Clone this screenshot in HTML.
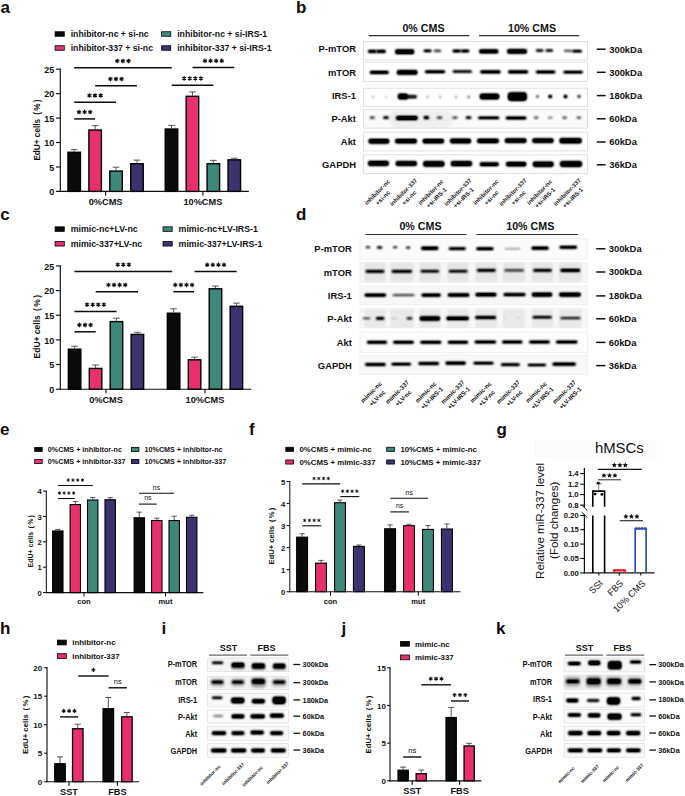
<!DOCTYPE html>
<html><head><meta charset="utf-8"><style>
html,body{margin:0;padding:0;background:#fff;}
svg{display:block;font-family:"Liberation Sans",sans-serif;}
</style></head><body>
<svg width="685" height="796" viewBox="0 0 685 796">
<defs><filter id="bl2" x="-30%" y="-100%" width="160%" height="300%"><feGaussianBlur stdDeviation="0.2"/><feComponentTransfer><feFuncA type="linear" slope="1.5"/></feComponentTransfer></filter><filter id="bl3" x="-30%" y="-100%" width="160%" height="300%"><feGaussianBlur stdDeviation="0.3"/><feComponentTransfer><feFuncA type="linear" slope="1.5"/></feComponentTransfer></filter><filter id="bl4" x="-30%" y="-100%" width="160%" height="300%"><feGaussianBlur stdDeviation="0.4"/><feComponentTransfer><feFuncA type="linear" slope="1.5"/></feComponentTransfer></filter><filter id="bl5" x="-30%" y="-100%" width="160%" height="300%"><feGaussianBlur stdDeviation="0.5"/><feComponentTransfer><feFuncA type="linear" slope="1.5"/></feComponentTransfer></filter><filter id="bl6" x="-30%" y="-100%" width="160%" height="300%"><feGaussianBlur stdDeviation="0.6"/><feComponentTransfer><feFuncA type="linear" slope="1.5"/></feComponentTransfer></filter><filter id="bl7" x="-30%" y="-100%" width="160%" height="300%"><feGaussianBlur stdDeviation="0.7"/><feComponentTransfer><feFuncA type="linear" slope="1.5"/></feComponentTransfer></filter><filter id="bl8" x="-30%" y="-100%" width="160%" height="300%"><feGaussianBlur stdDeviation="0.8"/><feComponentTransfer><feFuncA type="linear" slope="1.5"/></feComponentTransfer></filter><filter id="bl9" x="-30%" y="-100%" width="160%" height="300%"><feGaussianBlur stdDeviation="0.9"/><feComponentTransfer><feFuncA type="linear" slope="1.5"/></feComponentTransfer></filter><filter id="bl10" x="-30%" y="-100%" width="160%" height="300%"><feGaussianBlur stdDeviation="1.0"/><feComponentTransfer><feFuncA type="linear" slope="1.5"/></feComponentTransfer></filter><filter id="bl11" x="-30%" y="-100%" width="160%" height="300%"><feGaussianBlur stdDeviation="1.1"/><feComponentTransfer><feFuncA type="linear" slope="1.5"/></feComponentTransfer></filter><filter id="bl12" x="-30%" y="-100%" width="160%" height="300%"><feGaussianBlur stdDeviation="1.2"/><feComponentTransfer><feFuncA type="linear" slope="1.5"/></feComponentTransfer></filter><filter id="bl13" x="-30%" y="-100%" width="160%" height="300%"><feGaussianBlur stdDeviation="1.3"/><feComponentTransfer><feFuncA type="linear" slope="1.5"/></feComponentTransfer></filter><filter id="bl14" x="-30%" y="-100%" width="160%" height="300%"><feGaussianBlur stdDeviation="1.4"/><feComponentTransfer><feFuncA type="linear" slope="1.5"/></feComponentTransfer></filter><filter id="bl15" x="-30%" y="-100%" width="160%" height="300%"><feGaussianBlur stdDeviation="1.5"/><feComponentTransfer><feFuncA type="linear" slope="1.5"/></feComponentTransfer></filter></defs>
<rect width="685" height="796" fill="#fff"/>
<line x1="60.3" y1="68.62" x2="60.3" y2="191.97" stroke="#111" stroke-width="1.15"/>
<line x1="59.72" y1="191.4" x2="248.8" y2="191.4" stroke="#111" stroke-width="1.15"/>
<line x1="55.9" y1="191.4" x2="60.3" y2="191.4" stroke="#111" stroke-width="1.15"/>
<text x="54.3" y="195.04" font-size="9" text-anchor="end" font-weight="bold" fill="#111" >0</text>
<line x1="55.9" y1="166.96" x2="60.3" y2="166.96" stroke="#111" stroke-width="1.15"/>
<text x="54.3" y="170.6" font-size="9" text-anchor="end" font-weight="bold" fill="#111" >5</text>
<line x1="55.9" y1="142.52" x2="60.3" y2="142.52" stroke="#111" stroke-width="1.15"/>
<text x="54.3" y="146.16" font-size="9" text-anchor="end" font-weight="bold" fill="#111" >10</text>
<line x1="55.9" y1="118.08" x2="60.3" y2="118.08" stroke="#111" stroke-width="1.15"/>
<text x="54.3" y="121.72" font-size="9" text-anchor="end" font-weight="bold" fill="#111" >15</text>
<line x1="55.9" y1="93.64" x2="60.3" y2="93.64" stroke="#111" stroke-width="1.15"/>
<text x="54.3" y="97.28" font-size="9" text-anchor="end" font-weight="bold" fill="#111" >20</text>
<line x1="55.9" y1="69.2" x2="60.3" y2="69.2" stroke="#111" stroke-width="1.15"/>
<text x="54.3" y="72.84" font-size="9" text-anchor="end" font-weight="bold" fill="#111" >25</text>
<line x1="105.6" y1="191.4" x2="105.6" y2="195.4" stroke="#111" stroke-width="1.15"/>
<text x="105.6" y="205" font-size="9.2" text-anchor="middle" font-weight="bold" fill="#111" >0%CMS</text>
<line x1="202.9" y1="191.4" x2="202.9" y2="195.4" stroke="#111" stroke-width="1.15"/>
<text x="202.9" y="205" font-size="9.2" text-anchor="middle" font-weight="bold" fill="#111" >10%CMS</text>
<line x1="74.2" y1="149.61" x2="74.2" y2="151.56" stroke="#444" stroke-width="0.9"/>
<line x1="70.9" y1="149.61" x2="77.5" y2="149.61" stroke="#444" stroke-width="0.9"/>
<rect x="67.95" y="152.26" width="12.5" height="39.14" fill="#0a0a0a" stroke="#000" stroke-width="1.4" />
<line x1="95.15" y1="125.66" x2="95.15" y2="129.32" stroke="#444" stroke-width="0.9"/>
<line x1="91.85" y1="125.66" x2="98.45" y2="125.66" stroke="#444" stroke-width="0.9"/>
<rect x="88.9" y="130.02" width="12.5" height="61.38" fill="#e8316b" stroke="#000" stroke-width="1.4" />
<line x1="116.05" y1="167.2" x2="116.05" y2="170.38" stroke="#444" stroke-width="0.9"/>
<line x1="112.75" y1="167.2" x2="119.35" y2="167.2" stroke="#444" stroke-width="0.9"/>
<rect x="109.8" y="171.08" width="12.5" height="20.32" fill="#3e877b" stroke="#000" stroke-width="1.4" />
<line x1="137" y1="160.12" x2="137" y2="163.05" stroke="#444" stroke-width="0.9"/>
<line x1="133.7" y1="160.12" x2="140.3" y2="160.12" stroke="#444" stroke-width="0.9"/>
<rect x="130.75" y="163.75" width="12.5" height="27.65" fill="#3e3170" stroke="#000" stroke-width="1.4" />
<line x1="171.5" y1="125.41" x2="171.5" y2="128.34" stroke="#444" stroke-width="0.9"/>
<line x1="168.2" y1="125.41" x2="174.8" y2="125.41" stroke="#444" stroke-width="0.9"/>
<rect x="165.25" y="129.04" width="12.5" height="62.36" fill="#0a0a0a" stroke="#000" stroke-width="1.4" />
<line x1="192.45" y1="91.93" x2="192.45" y2="95.6" stroke="#444" stroke-width="0.9"/>
<line x1="189.15" y1="91.93" x2="195.75" y2="91.93" stroke="#444" stroke-width="0.9"/>
<rect x="186.2" y="96.3" width="12.5" height="95.1" fill="#e8316b" stroke="#000" stroke-width="1.4" />
<line x1="213.35" y1="160.36" x2="213.35" y2="163.05" stroke="#444" stroke-width="0.9"/>
<line x1="210.05" y1="160.36" x2="216.65" y2="160.36" stroke="#444" stroke-width="0.9"/>
<rect x="207.1" y="163.75" width="12.5" height="27.65" fill="#3e877b" stroke="#000" stroke-width="1.4" />
<line x1="234.3" y1="158.16" x2="234.3" y2="159.14" stroke="#444" stroke-width="0.9"/>
<line x1="231" y1="158.16" x2="237.6" y2="158.16" stroke="#444" stroke-width="0.9"/>
<rect x="228.05" y="159.84" width="12.5" height="31.56" fill="#3e3170" stroke="#000" stroke-width="1.4" />
<line x1="74.2" y1="67.8" x2="171.7" y2="67.8" stroke="#0d0d0d" stroke-width="1.5"/>
<path d="M117.35,58.75L117.35,63.25M115.4,59.88L119.3,62.12M119.3,59.88L115.4,62.12" stroke="#111" stroke-width="1.17" fill="none"/>
<path d="M122.95,58.75L122.95,63.25M121,59.88L124.9,62.12M124.9,59.88L121,62.12" stroke="#111" stroke-width="1.17" fill="none"/>
<path d="M128.55,58.75L128.55,63.25M126.6,59.88L130.5,62.12M130.5,59.88L126.6,62.12" stroke="#111" stroke-width="1.17" fill="none"/>
<line x1="192.5" y1="67.6" x2="234.2" y2="67.6" stroke="#0d0d0d" stroke-width="1.5"/>
<path d="M204.95,58.55L204.95,63.05M203,59.67L206.9,61.92M206.9,59.67L203,61.92" stroke="#111" stroke-width="1.17" fill="none"/>
<path d="M210.55,58.55L210.55,63.05M208.6,59.67L212.5,61.92M212.5,59.67L208.6,61.92" stroke="#111" stroke-width="1.17" fill="none"/>
<path d="M216.15,58.55L216.15,63.05M214.2,59.67L218.1,61.92M218.1,59.67L214.2,61.92" stroke="#111" stroke-width="1.17" fill="none"/>
<path d="M221.75,58.55L221.75,63.05M219.8,59.67L223.7,61.92M223.7,59.67L219.8,61.92" stroke="#111" stroke-width="1.17" fill="none"/>
<line x1="95.2" y1="85.8" x2="136.9" y2="85.8" stroke="#0d0d0d" stroke-width="1.5"/>
<path d="M110.45,76.75L110.45,81.25M108.5,77.88L112.4,80.12M112.4,77.88L108.5,80.12" stroke="#111" stroke-width="1.17" fill="none"/>
<path d="M116.05,76.75L116.05,81.25M114.1,77.88L118,80.12M118,77.88L114.1,80.12" stroke="#111" stroke-width="1.17" fill="none"/>
<path d="M121.65,76.75L121.65,81.25M119.7,77.88L123.6,80.12M123.6,77.88L119.7,80.12" stroke="#111" stroke-width="1.17" fill="none"/>
<line x1="171.7" y1="85.2" x2="213.4" y2="85.2" stroke="#0d0d0d" stroke-width="1.5"/>
<path d="M184.15,76.15L184.15,80.65M182.2,77.28L186.1,79.53M186.1,77.28L182.2,79.53" stroke="#111" stroke-width="1.17" fill="none"/>
<path d="M189.75,76.15L189.75,80.65M187.8,77.28L191.7,79.53M191.7,77.28L187.8,79.53" stroke="#111" stroke-width="1.17" fill="none"/>
<path d="M195.35,76.15L195.35,80.65M193.4,77.28L197.3,79.53M197.3,77.28L193.4,79.53" stroke="#111" stroke-width="1.17" fill="none"/>
<path d="M200.95,76.15L200.95,80.65M199,77.28L202.9,79.53M202.9,77.28L199,79.53" stroke="#111" stroke-width="1.17" fill="none"/>
<line x1="74.2" y1="102.3" x2="116" y2="102.3" stroke="#0d0d0d" stroke-width="1.5"/>
<path d="M89.5,93.25L89.5,97.75M87.55,94.38L91.45,96.62M91.45,94.38L87.55,96.62" stroke="#111" stroke-width="1.17" fill="none"/>
<path d="M95.1,93.25L95.1,97.75M93.15,94.38L97.05,96.62M97.05,94.38L93.15,96.62" stroke="#111" stroke-width="1.17" fill="none"/>
<path d="M100.7,93.25L100.7,97.75M98.75,94.38L102.65,96.62M102.65,94.38L98.75,96.62" stroke="#111" stroke-width="1.17" fill="none"/>
<line x1="74.2" y1="118.9" x2="95" y2="118.9" stroke="#0d0d0d" stroke-width="1.5"/>
<path d="M79,109.85L79,114.35M77.05,110.98L80.95,113.23M80.95,110.98L77.05,113.23" stroke="#111" stroke-width="1.17" fill="none"/>
<path d="M84.6,109.85L84.6,114.35M82.65,110.98L86.55,113.23M86.55,110.98L82.65,113.23" stroke="#111" stroke-width="1.17" fill="none"/>
<path d="M90.2,109.85L90.2,114.35M88.25,110.98L92.15,113.23M92.15,110.98L88.25,113.23" stroke="#111" stroke-width="1.17" fill="none"/>
<rect x="55.1" y="31.75" width="9.2" height="4.5" fill="#0a0a0a" stroke="#000" stroke-width="0.8" />
<text x="70.7" y="37.13" font-size="8.7" text-anchor="start" font-weight="bold" fill="#111" >inhibitor-nc + si-nc</text>
<rect x="55.1" y="45.75" width="9.2" height="4.5" fill="#e8316b" stroke="#000" stroke-width="0.8" />
<text x="70.7" y="51.13" font-size="8.7" text-anchor="start" font-weight="bold" fill="#111" >inhibitor-337 + si-nc</text>
<rect x="161.6" y="31.75" width="9.2" height="4.5" fill="#3e877b" stroke="#000" stroke-width="0.8" />
<text x="177.2" y="37.13" font-size="8.7" text-anchor="start" font-weight="bold" fill="#111" >inhibitor-nc + si-IRS-1</text>
<rect x="161.6" y="45.75" width="9.2" height="4.5" fill="#3e3170" stroke="#000" stroke-width="0.8" />
<text x="177.2" y="51.13" font-size="8.7" text-anchor="start" font-weight="bold" fill="#111" >inhibitor-337 + si-IRS-1</text>
<text transform="translate(40.3,130) rotate(-90)" font-size="8.2" text-anchor="middle" font-weight="bold" fill="#111">EdU+ cells ( % )</text>
<line x1="60.3" y1="265.32" x2="60.3" y2="389.77" stroke="#111" stroke-width="1.15"/>
<line x1="59.72" y1="389.2" x2="251.3" y2="389.2" stroke="#111" stroke-width="1.15"/>
<line x1="55.9" y1="389.2" x2="60.3" y2="389.2" stroke="#111" stroke-width="1.15"/>
<text x="54.3" y="392.84" font-size="9" text-anchor="end" font-weight="bold" fill="#111" >0</text>
<line x1="55.9" y1="364.54" x2="60.3" y2="364.54" stroke="#111" stroke-width="1.15"/>
<text x="54.3" y="368.18" font-size="9" text-anchor="end" font-weight="bold" fill="#111" >5</text>
<line x1="55.9" y1="339.88" x2="60.3" y2="339.88" stroke="#111" stroke-width="1.15"/>
<text x="54.3" y="343.52" font-size="9" text-anchor="end" font-weight="bold" fill="#111" >10</text>
<line x1="55.9" y1="315.22" x2="60.3" y2="315.22" stroke="#111" stroke-width="1.15"/>
<text x="54.3" y="318.86" font-size="9" text-anchor="end" font-weight="bold" fill="#111" >15</text>
<line x1="55.9" y1="290.56" x2="60.3" y2="290.56" stroke="#111" stroke-width="1.15"/>
<text x="54.3" y="294.2" font-size="9" text-anchor="end" font-weight="bold" fill="#111" >20</text>
<line x1="55.9" y1="265.9" x2="60.3" y2="265.9" stroke="#111" stroke-width="1.15"/>
<text x="54.3" y="269.54" font-size="9" text-anchor="end" font-weight="bold" fill="#111" >25</text>
<line x1="106" y1="389.2" x2="106" y2="393.2" stroke="#111" stroke-width="1.15"/>
<text x="106" y="402.7" font-size="9.2" text-anchor="middle" font-weight="bold" fill="#111" >0%CMS</text>
<line x1="205" y1="389.2" x2="205" y2="393.2" stroke="#111" stroke-width="1.15"/>
<text x="205" y="402.7" font-size="9.2" text-anchor="middle" font-weight="bold" fill="#111" >10%CMS</text>
<line x1="74.6" y1="346.29" x2="74.6" y2="348.51" stroke="#444" stroke-width="0.9"/>
<line x1="71.3" y1="346.29" x2="77.9" y2="346.29" stroke="#444" stroke-width="0.9"/>
<rect x="68.35" y="349.21" width="12.5" height="39.99" fill="#0a0a0a" stroke="#000" stroke-width="1.4" />
<line x1="95.55" y1="365.03" x2="95.55" y2="367.75" stroke="#444" stroke-width="0.9"/>
<line x1="92.25" y1="365.03" x2="98.85" y2="365.03" stroke="#444" stroke-width="0.9"/>
<rect x="89.3" y="368.45" width="12.5" height="20.75" fill="#e8316b" stroke="#000" stroke-width="1.4" />
<line x1="116.45" y1="318.18" x2="116.45" y2="320.89" stroke="#444" stroke-width="0.9"/>
<line x1="113.15" y1="318.18" x2="119.75" y2="318.18" stroke="#444" stroke-width="0.9"/>
<rect x="110.2" y="321.59" width="12.5" height="67.61" fill="#3e877b" stroke="#000" stroke-width="1.4" />
<line x1="137.4" y1="332.24" x2="137.4" y2="333.71" stroke="#444" stroke-width="0.9"/>
<line x1="134.1" y1="332.24" x2="140.7" y2="332.24" stroke="#444" stroke-width="0.9"/>
<rect x="131.15" y="334.41" width="12.5" height="54.79" fill="#3e3170" stroke="#000" stroke-width="1.4" />
<line x1="173.6" y1="308.81" x2="173.6" y2="312.51" stroke="#444" stroke-width="0.9"/>
<line x1="170.3" y1="308.81" x2="176.9" y2="308.81" stroke="#444" stroke-width="0.9"/>
<rect x="167.35" y="313.21" width="12.5" height="75.99" fill="#0a0a0a" stroke="#000" stroke-width="1.4" />
<line x1="194.55" y1="357.14" x2="194.55" y2="359.11" stroke="#444" stroke-width="0.9"/>
<line x1="191.25" y1="357.14" x2="197.85" y2="357.14" stroke="#444" stroke-width="0.9"/>
<rect x="188.3" y="359.81" width="12.5" height="29.39" fill="#e8316b" stroke="#000" stroke-width="1.4" />
<line x1="215.45" y1="286.12" x2="215.45" y2="288.09" stroke="#444" stroke-width="0.9"/>
<line x1="212.15" y1="286.12" x2="218.75" y2="286.12" stroke="#444" stroke-width="0.9"/>
<rect x="209.2" y="288.79" width="12.5" height="100.41" fill="#3e877b" stroke="#000" stroke-width="1.4" />
<line x1="236.4" y1="303.14" x2="236.4" y2="305.6" stroke="#444" stroke-width="0.9"/>
<line x1="233.1" y1="303.14" x2="239.7" y2="303.14" stroke="#444" stroke-width="0.9"/>
<rect x="230.15" y="306.3" width="12.5" height="82.9" fill="#3e3170" stroke="#000" stroke-width="1.4" />
<line x1="74.4" y1="271.5" x2="172.2" y2="271.5" stroke="#0d0d0d" stroke-width="1.5"/>
<path d="M117.7,262.45L117.7,266.95M115.75,263.57L119.65,265.82M119.65,263.57L115.75,265.82" stroke="#111" stroke-width="1.17" fill="none"/>
<path d="M123.3,262.45L123.3,266.95M121.35,263.57L125.25,265.82M125.25,263.57L121.35,265.82" stroke="#111" stroke-width="1.17" fill="none"/>
<path d="M128.9,262.45L128.9,266.95M126.95,263.57L130.85,265.82M130.85,263.57L126.95,265.82" stroke="#111" stroke-width="1.17" fill="none"/>
<line x1="194.5" y1="271.6" x2="236.7" y2="271.6" stroke="#0d0d0d" stroke-width="1.5"/>
<path d="M207.2,262.55L207.2,267.05M205.25,263.68L209.15,265.93M209.15,263.68L205.25,265.93" stroke="#111" stroke-width="1.17" fill="none"/>
<path d="M212.8,262.55L212.8,267.05M210.85,263.68L214.75,265.93M214.75,263.68L210.85,265.93" stroke="#111" stroke-width="1.17" fill="none"/>
<path d="M218.4,262.55L218.4,267.05M216.45,263.68L220.35,265.93M220.35,263.68L216.45,265.93" stroke="#111" stroke-width="1.17" fill="none"/>
<path d="M224,262.55L224,267.05M222.05,263.68L225.95,265.93M225.95,263.68L222.05,265.93" stroke="#111" stroke-width="1.17" fill="none"/>
<line x1="95.7" y1="291.7" x2="138" y2="291.7" stroke="#0d0d0d" stroke-width="1.5"/>
<path d="M108.45,282.65L108.45,287.15M106.5,283.77L110.4,286.02M110.4,283.77L106.5,286.02" stroke="#111" stroke-width="1.17" fill="none"/>
<path d="M114.05,282.65L114.05,287.15M112.1,283.77L116,286.02M116,283.77L112.1,286.02" stroke="#111" stroke-width="1.17" fill="none"/>
<path d="M119.65,282.65L119.65,287.15M117.7,283.77L121.6,286.02M121.6,283.77L117.7,286.02" stroke="#111" stroke-width="1.17" fill="none"/>
<path d="M125.25,282.65L125.25,287.15M123.3,283.77L127.2,286.02M127.2,283.77L123.3,286.02" stroke="#111" stroke-width="1.17" fill="none"/>
<line x1="173.4" y1="291.7" x2="194" y2="291.7" stroke="#0d0d0d" stroke-width="1.5"/>
<path d="M175.3,282.65L175.3,287.15M173.35,283.77L177.25,286.02M177.25,283.77L173.35,286.02" stroke="#111" stroke-width="1.17" fill="none"/>
<path d="M180.9,282.65L180.9,287.15M178.95,283.77L182.85,286.02M182.85,283.77L178.95,286.02" stroke="#111" stroke-width="1.17" fill="none"/>
<path d="M186.5,282.65L186.5,287.15M184.55,283.77L188.45,286.02M188.45,283.77L184.55,286.02" stroke="#111" stroke-width="1.17" fill="none"/>
<path d="M192.1,282.65L192.1,287.15M190.15,283.77L194.05,286.02M194.05,283.77L190.15,286.02" stroke="#111" stroke-width="1.17" fill="none"/>
<line x1="74.4" y1="311.5" x2="116.5" y2="311.5" stroke="#0d0d0d" stroke-width="1.5"/>
<path d="M87.05,302.45L87.05,306.95M85.1,303.57L89,305.82M89,303.57L85.1,305.82" stroke="#111" stroke-width="1.17" fill="none"/>
<path d="M92.65,302.45L92.65,306.95M90.7,303.57L94.6,305.82M94.6,303.57L90.7,305.82" stroke="#111" stroke-width="1.17" fill="none"/>
<path d="M98.25,302.45L98.25,306.95M96.3,303.57L100.2,305.82M100.2,303.57L96.3,305.82" stroke="#111" stroke-width="1.17" fill="none"/>
<path d="M103.85,302.45L103.85,306.95M101.9,303.57L105.8,305.82M105.8,303.57L101.9,305.82" stroke="#111" stroke-width="1.17" fill="none"/>
<line x1="74.4" y1="331.8" x2="95.7" y2="331.8" stroke="#0d0d0d" stroke-width="1.5"/>
<path d="M79.45,322.75L79.45,327.25M77.5,323.88L81.4,326.12M81.4,323.88L77.5,326.12" stroke="#111" stroke-width="1.17" fill="none"/>
<path d="M85.05,322.75L85.05,327.25M83.1,323.88L87,326.12M87,323.88L83.1,326.12" stroke="#111" stroke-width="1.17" fill="none"/>
<path d="M90.65,322.75L90.65,327.25M88.7,323.88L92.6,326.12M92.6,323.88L88.7,326.12" stroke="#111" stroke-width="1.17" fill="none"/>
<rect x="55.1" y="226.85" width="9.2" height="4.5" fill="#0a0a0a" stroke="#000" stroke-width="0.8" />
<text x="70.7" y="232.27" font-size="8.8" text-anchor="start" font-weight="bold" fill="#111" >mimic-nc+LV-nc</text>
<rect x="55.1" y="241.55" width="9.2" height="4.5" fill="#e8316b" stroke="#000" stroke-width="0.8" />
<text x="70.7" y="246.97" font-size="8.8" text-anchor="start" font-weight="bold" fill="#111" >mimic-337+LV-nc</text>
<rect x="163" y="226.85" width="9.2" height="4.5" fill="#3e877b" stroke="#000" stroke-width="0.8" />
<text x="178.6" y="232.27" font-size="8.8" text-anchor="start" font-weight="bold" fill="#111" >mimic-nc+LV-IRS-1</text>
<rect x="163" y="241.55" width="9.2" height="4.5" fill="#3e3170" stroke="#000" stroke-width="0.8" />
<text x="178.6" y="246.97" font-size="8.8" text-anchor="start" font-weight="bold" fill="#111" >mimic-337+LV-IRS-1</text>
<text transform="translate(40.3,326.7) rotate(-90)" font-size="8.5" text-anchor="middle" font-weight="bold" fill="#111">EdU+ cells ( % )</text>
<line x1="46.3" y1="490.56" x2="46.3" y2="593.12" stroke="#111" stroke-width="1.05"/>
<line x1="45.77" y1="592.6" x2="203.3" y2="592.6" stroke="#111" stroke-width="1.05"/>
<line x1="43" y1="592.6" x2="46.3" y2="592.6" stroke="#111" stroke-width="1.05"/>
<text x="41.7" y="595.74" font-size="7.6" text-anchor="end" font-weight="bold" fill="#111" >0</text>
<line x1="43" y1="567.22" x2="46.3" y2="567.22" stroke="#111" stroke-width="1.05"/>
<text x="41.7" y="570.36" font-size="7.6" text-anchor="end" font-weight="bold" fill="#111" >1</text>
<line x1="43" y1="541.84" x2="46.3" y2="541.84" stroke="#111" stroke-width="1.05"/>
<text x="41.7" y="544.98" font-size="7.6" text-anchor="end" font-weight="bold" fill="#111" >2</text>
<line x1="43" y1="516.46" x2="46.3" y2="516.46" stroke="#111" stroke-width="1.05"/>
<text x="41.7" y="519.6" font-size="7.6" text-anchor="end" font-weight="bold" fill="#111" >3</text>
<line x1="43" y1="491.08" x2="46.3" y2="491.08" stroke="#111" stroke-width="1.05"/>
<text x="41.7" y="494.22" font-size="7.6" text-anchor="end" font-weight="bold" fill="#111" >4</text>
<line x1="84" y1="592.6" x2="84" y2="596.6" stroke="#111" stroke-width="1.05"/>
<text x="84" y="604.3" font-size="7.6" text-anchor="middle" font-weight="bold" fill="#111" >con</text>
<line x1="165.5" y1="592.6" x2="165.5" y2="596.6" stroke="#111" stroke-width="1.05"/>
<text x="165.5" y="604.3" font-size="7.6" text-anchor="middle" font-weight="bold" fill="#111" >mut</text>
<line x1="57.8" y1="529.4" x2="57.8" y2="530.42" stroke="#444" stroke-width="0.9"/>
<line x1="55.2" y1="529.4" x2="60.4" y2="529.4" stroke="#444" stroke-width="0.9"/>
<rect x="52.6" y="530.97" width="10.4" height="61.63" fill="#0a0a0a" stroke="#000" stroke-width="1.1" />
<line x1="75.3" y1="501.49" x2="75.3" y2="504.02" stroke="#444" stroke-width="0.9"/>
<line x1="72.7" y1="501.49" x2="77.9" y2="501.49" stroke="#444" stroke-width="0.9"/>
<rect x="70.1" y="504.57" width="10.4" height="88.03" fill="#e8316b" stroke="#000" stroke-width="1.1" />
<line x1="92.7" y1="497.43" x2="92.7" y2="499.46" stroke="#444" stroke-width="0.9"/>
<line x1="90.1" y1="497.43" x2="95.3" y2="497.43" stroke="#444" stroke-width="0.9"/>
<rect x="87.5" y="500.01" width="10.4" height="92.59" fill="#3e877b" stroke="#000" stroke-width="1.1" />
<line x1="110.2" y1="497.68" x2="110.2" y2="499.2" stroke="#444" stroke-width="0.9"/>
<line x1="107.6" y1="497.68" x2="112.8" y2="497.68" stroke="#444" stroke-width="0.9"/>
<rect x="105" y="499.75" width="10.4" height="92.85" fill="#3e3170" stroke="#000" stroke-width="1.1" />
<line x1="139.3" y1="512.15" x2="139.3" y2="517.22" stroke="#444" stroke-width="0.9"/>
<line x1="136.7" y1="512.15" x2="141.9" y2="512.15" stroke="#444" stroke-width="0.9"/>
<rect x="134.1" y="517.77" width="10.4" height="74.83" fill="#0a0a0a" stroke="#000" stroke-width="1.1" />
<line x1="156.8" y1="518.24" x2="156.8" y2="520.01" stroke="#444" stroke-width="0.9"/>
<line x1="154.2" y1="518.24" x2="159.4" y2="518.24" stroke="#444" stroke-width="0.9"/>
<rect x="151.6" y="520.56" width="10.4" height="72.04" fill="#e8316b" stroke="#000" stroke-width="1.1" />
<line x1="174.2" y1="516.21" x2="174.2" y2="520.01" stroke="#444" stroke-width="0.9"/>
<line x1="171.6" y1="516.21" x2="176.8" y2="516.21" stroke="#444" stroke-width="0.9"/>
<rect x="169" y="520.56" width="10.4" height="72.04" fill="#3e877b" stroke="#000" stroke-width="1.1" />
<line x1="191.7" y1="515.19" x2="191.7" y2="516.71" stroke="#444" stroke-width="0.9"/>
<line x1="189.1" y1="515.19" x2="194.3" y2="515.19" stroke="#444" stroke-width="0.9"/>
<rect x="186.5" y="517.26" width="10.4" height="75.34" fill="#3e3170" stroke="#000" stroke-width="1.1" />
<line x1="58" y1="485.5" x2="92.7" y2="485.5" stroke="#0d0d0d" stroke-width="1.1"/>
<path d="M68.22,478.4L68.22,481.8M66.75,479.25L69.7,480.95M69.7,479.25L66.75,480.95" stroke="#111" stroke-width="0.88" fill="none"/>
<path d="M72.97,478.4L72.97,481.8M71.5,479.25L74.45,480.95M74.45,479.25L71.5,480.95" stroke="#111" stroke-width="0.88" fill="none"/>
<path d="M77.72,478.4L77.72,481.8M76.25,479.25L79.2,480.95M79.2,479.25L76.25,480.95" stroke="#111" stroke-width="0.88" fill="none"/>
<path d="M82.47,478.4L82.47,481.8M81,479.25L83.95,480.95M83.95,479.25L81,480.95" stroke="#111" stroke-width="0.88" fill="none"/>
<line x1="58" y1="498.5" x2="75.1" y2="498.5" stroke="#0d0d0d" stroke-width="1.1"/>
<path d="M59.42,491.4L59.42,494.8M57.95,492.25L60.9,493.95M60.9,492.25L57.95,493.95" stroke="#111" stroke-width="0.88" fill="none"/>
<path d="M64.17,491.4L64.17,494.8M62.7,492.25L65.65,493.95M65.65,492.25L62.7,493.95" stroke="#111" stroke-width="0.88" fill="none"/>
<path d="M68.92,491.4L68.92,494.8M67.45,492.25L70.4,493.95M70.4,492.25L67.45,493.95" stroke="#111" stroke-width="0.88" fill="none"/>
<path d="M73.67,491.4L73.67,494.8M72.2,492.25L75.15,493.95M75.15,492.25L72.2,493.95" stroke="#111" stroke-width="0.88" fill="none"/>
<line x1="139" y1="493.3" x2="174" y2="493.3" stroke="#0d0d0d" stroke-width="1.1"/>
<text x="156.5" y="489.6" font-size="6.9" text-anchor="middle" font-weight="normal" fill="#111" >ns</text>
<line x1="139" y1="504.1" x2="156.7" y2="504.1" stroke="#0d0d0d" stroke-width="1.1"/>
<text x="147.85" y="500.4" font-size="6.9" text-anchor="middle" font-weight="normal" fill="#111" >ns</text>
<rect x="34.7" y="447.35" width="7.5" height="4.1" fill="#0a0a0a" stroke="#000" stroke-width="0.8" />
<text x="47.8" y="451.99" font-size="7.2" text-anchor="start" font-weight="bold" fill="#111" >0%CMS + inhibitor-nc</text>
<rect x="34.7" y="459.45" width="7.5" height="4.1" fill="#e8316b" stroke="#000" stroke-width="0.8" />
<text x="47.8" y="464.09" font-size="7.2" text-anchor="start" font-weight="bold" fill="#111" >0%CMS + inhibitor-337</text>
<rect x="131.4" y="447.35" width="7.5" height="4.1" fill="#3e877b" stroke="#000" stroke-width="0.8" />
<text x="144.5" y="451.99" font-size="7.2" text-anchor="start" font-weight="bold" fill="#111" >10%CMS + inhibitor-nc</text>
<rect x="131.4" y="459.45" width="7.5" height="4.1" fill="#3e3170" stroke="#000" stroke-width="0.8" />
<text x="144.5" y="464.09" font-size="7.2" text-anchor="start" font-weight="bold" fill="#111" >10%CMS + inhibitor-337</text>
<text transform="translate(32.6,541.3) rotate(-90)" font-size="7" text-anchor="middle" font-weight="bold" fill="#111">EdU+ cells ( % )</text>
<line x1="289.8" y1="480.98" x2="289.8" y2="592.23" stroke="#111" stroke-width="1.05"/>
<line x1="289.28" y1="591.7" x2="460.5" y2="591.7" stroke="#111" stroke-width="1.05"/>
<line x1="286.5" y1="591.7" x2="289.8" y2="591.7" stroke="#111" stroke-width="1.05"/>
<text x="285.2" y="594.84" font-size="7.6" text-anchor="end" font-weight="bold" fill="#111" >0</text>
<line x1="286.5" y1="569.66" x2="289.8" y2="569.66" stroke="#111" stroke-width="1.05"/>
<text x="285.2" y="572.8" font-size="7.6" text-anchor="end" font-weight="bold" fill="#111" >1</text>
<line x1="286.5" y1="547.62" x2="289.8" y2="547.62" stroke="#111" stroke-width="1.05"/>
<text x="285.2" y="550.76" font-size="7.6" text-anchor="end" font-weight="bold" fill="#111" >2</text>
<line x1="286.5" y1="525.58" x2="289.8" y2="525.58" stroke="#111" stroke-width="1.05"/>
<text x="285.2" y="528.72" font-size="7.6" text-anchor="end" font-weight="bold" fill="#111" >3</text>
<line x1="286.5" y1="503.54" x2="289.8" y2="503.54" stroke="#111" stroke-width="1.05"/>
<text x="285.2" y="506.68" font-size="7.6" text-anchor="end" font-weight="bold" fill="#111" >4</text>
<line x1="286.5" y1="481.5" x2="289.8" y2="481.5" stroke="#111" stroke-width="1.05"/>
<text x="285.2" y="484.64" font-size="7.6" text-anchor="end" font-weight="bold" fill="#111" >5</text>
<line x1="330.5" y1="591.7" x2="330.5" y2="595.7" stroke="#111" stroke-width="1.05"/>
<text x="330.5" y="604.3" font-size="7.6" text-anchor="middle" font-weight="bold" fill="#111" >con</text>
<line x1="418.3" y1="591.7" x2="418.3" y2="595.7" stroke="#111" stroke-width="1.05"/>
<text x="418.3" y="604.3" font-size="7.6" text-anchor="middle" font-weight="bold" fill="#111" >mut</text>
<line x1="302.1" y1="533.73" x2="302.1" y2="536.6" stroke="#444" stroke-width="0.9"/>
<line x1="299.5" y1="533.73" x2="304.7" y2="533.73" stroke="#444" stroke-width="0.9"/>
<rect x="296.65" y="537.15" width="10.9" height="54.55" fill="#0a0a0a" stroke="#000" stroke-width="1.1" />
<line x1="321" y1="560.4" x2="321" y2="562.61" stroke="#444" stroke-width="0.9"/>
<line x1="318.4" y1="560.4" x2="323.6" y2="560.4" stroke="#444" stroke-width="0.9"/>
<rect x="315.55" y="563.16" width="10.9" height="28.54" fill="#e8316b" stroke="#000" stroke-width="1.1" />
<line x1="340" y1="500.01" x2="340" y2="502.22" stroke="#444" stroke-width="0.9"/>
<line x1="337.4" y1="500.01" x2="342.6" y2="500.01" stroke="#444" stroke-width="0.9"/>
<rect x="334.55" y="502.77" width="10.9" height="88.93" fill="#3e877b" stroke="#000" stroke-width="1.1" />
<line x1="358.9" y1="544.98" x2="358.9" y2="545.86" stroke="#444" stroke-width="0.9"/>
<line x1="356.3" y1="544.98" x2="361.5" y2="544.98" stroke="#444" stroke-width="0.9"/>
<rect x="353.45" y="546.41" width="10.9" height="45.29" fill="#3e3170" stroke="#000" stroke-width="1.1" />
<line x1="390.1" y1="524.92" x2="390.1" y2="528.22" stroke="#444" stroke-width="0.9"/>
<line x1="387.5" y1="524.92" x2="392.7" y2="524.92" stroke="#444" stroke-width="0.9"/>
<rect x="384.65" y="528.77" width="10.9" height="62.93" fill="#0a0a0a" stroke="#000" stroke-width="1.1" />
<line x1="409" y1="524.26" x2="409" y2="525.14" stroke="#444" stroke-width="0.9"/>
<line x1="406.4" y1="524.26" x2="411.6" y2="524.26" stroke="#444" stroke-width="0.9"/>
<rect x="403.55" y="525.69" width="10.9" height="66.01" fill="#e8316b" stroke="#000" stroke-width="1.1" />
<line x1="428" y1="525.58" x2="428" y2="528.89" stroke="#444" stroke-width="0.9"/>
<line x1="425.4" y1="525.58" x2="430.6" y2="525.58" stroke="#444" stroke-width="0.9"/>
<rect x="422.55" y="529.44" width="10.9" height="62.26" fill="#3e877b" stroke="#000" stroke-width="1.1" />
<line x1="446.9" y1="524.04" x2="446.9" y2="528.45" stroke="#444" stroke-width="0.9"/>
<line x1="444.3" y1="524.04" x2="449.5" y2="524.04" stroke="#444" stroke-width="0.9"/>
<rect x="441.45" y="529" width="10.9" height="62.7" fill="#3e3170" stroke="#000" stroke-width="1.1" />
<line x1="302.2" y1="483.9" x2="340.2" y2="483.9" stroke="#0d0d0d" stroke-width="1.1"/>
<path d="M314.07,476.8L314.07,480.2M312.6,477.65L315.55,479.35M315.55,477.65L312.6,479.35" stroke="#111" stroke-width="0.88" fill="none"/>
<path d="M318.82,476.8L318.82,480.2M317.35,477.65L320.3,479.35M320.3,477.65L317.35,479.35" stroke="#111" stroke-width="0.88" fill="none"/>
<path d="M323.57,476.8L323.57,480.2M322.1,477.65L325.05,479.35M325.05,477.65L322.1,479.35" stroke="#111" stroke-width="0.88" fill="none"/>
<path d="M328.32,476.8L328.32,480.2M326.85,477.65L329.8,479.35M329.8,477.65L326.85,479.35" stroke="#111" stroke-width="0.88" fill="none"/>
<line x1="340.2" y1="496.6" x2="359.3" y2="496.6" stroke="#0d0d0d" stroke-width="1.1"/>
<path d="M342.62,489.5L342.62,492.9M341.15,490.35L344.1,492.05M344.1,490.35L341.15,492.05" stroke="#111" stroke-width="0.88" fill="none"/>
<path d="M347.38,489.5L347.38,492.9M345.9,490.35L348.85,492.05M348.85,490.35L345.9,492.05" stroke="#111" stroke-width="0.88" fill="none"/>
<path d="M352.12,489.5L352.12,492.9M350.65,490.35L353.6,492.05M353.6,490.35L350.65,492.05" stroke="#111" stroke-width="0.88" fill="none"/>
<path d="M356.88,489.5L356.88,492.9M355.4,490.35L358.35,492.05M358.35,490.35L355.4,492.05" stroke="#111" stroke-width="0.88" fill="none"/>
<line x1="302.2" y1="525.8" x2="321.4" y2="525.8" stroke="#0d0d0d" stroke-width="1.1"/>
<path d="M304.67,518.7L304.67,522.1M303.2,519.55L306.15,521.25M306.15,519.55L303.2,521.25" stroke="#111" stroke-width="0.88" fill="none"/>
<path d="M309.42,518.7L309.42,522.1M307.95,519.55L310.9,521.25M310.9,519.55L307.95,521.25" stroke="#111" stroke-width="0.88" fill="none"/>
<path d="M314.17,518.7L314.17,522.1M312.7,519.55L315.65,521.25M315.65,519.55L312.7,521.25" stroke="#111" stroke-width="0.88" fill="none"/>
<path d="M318.92,518.7L318.92,522.1M317.45,519.55L320.4,521.25M320.4,519.55L317.45,521.25" stroke="#111" stroke-width="0.88" fill="none"/>
<line x1="390.4" y1="498.3" x2="428.1" y2="498.3" stroke="#0d0d0d" stroke-width="1.1"/>
<text x="409.25" y="494.6" font-size="6.9" text-anchor="middle" font-weight="normal" fill="#111" >ns</text>
<line x1="390.4" y1="511.9" x2="408.9" y2="511.9" stroke="#0d0d0d" stroke-width="1.1"/>
<text x="399.65" y="508.2" font-size="6.9" text-anchor="middle" font-weight="normal" fill="#111" >ns</text>
<rect x="285.8" y="447.25" width="7.8" height="4.1" fill="#0a0a0a" stroke="#000" stroke-width="0.8" />
<text x="299.5" y="452.13" font-size="7.85" text-anchor="start" font-weight="bold" fill="#111" >0%CMS + mimic-nc</text>
<rect x="285.8" y="459.95" width="7.8" height="4.1" fill="#e8316b" stroke="#000" stroke-width="0.8" />
<text x="299.5" y="464.83" font-size="7.85" text-anchor="start" font-weight="bold" fill="#111" >0%CMS + mimic-337</text>
<rect x="386.7" y="447.25" width="7.8" height="4.1" fill="#3e877b" stroke="#000" stroke-width="0.8" />
<text x="400.4" y="452.13" font-size="7.85" text-anchor="start" font-weight="bold" fill="#111" >10%CMS + mimic-nc</text>
<rect x="386.7" y="459.95" width="7.8" height="4.1" fill="#3e3170" stroke="#000" stroke-width="0.8" />
<text x="400.4" y="464.83" font-size="7.85" text-anchor="start" font-weight="bold" fill="#111" >10%CMS + mimic-337</text>
<text transform="translate(274.1,536) rotate(-90)" font-size="7.6" text-anchor="middle" font-weight="bold" fill="#111">EdU+ cells ( % )</text>
<line x1="47" y1="667.12" x2="47" y2="782.28" stroke="#111" stroke-width="1.15"/>
<line x1="46.42" y1="781.7" x2="139" y2="781.7" stroke="#111" stroke-width="1.15"/>
<line x1="44.2" y1="781.7" x2="47" y2="781.7" stroke="#111" stroke-width="1.15"/>
<text x="42.2" y="784.98" font-size="8" text-anchor="end" font-weight="bold" fill="#111" >0</text>
<line x1="44.2" y1="753.2" x2="47" y2="753.2" stroke="#111" stroke-width="1.15"/>
<text x="42.2" y="756.48" font-size="8" text-anchor="end" font-weight="bold" fill="#111" >5</text>
<line x1="44.2" y1="724.7" x2="47" y2="724.7" stroke="#111" stroke-width="1.15"/>
<text x="42.2" y="727.98" font-size="8" text-anchor="end" font-weight="bold" fill="#111" >10</text>
<line x1="44.2" y1="696.2" x2="47" y2="696.2" stroke="#111" stroke-width="1.15"/>
<text x="42.2" y="699.48" font-size="8" text-anchor="end" font-weight="bold" fill="#111" >15</text>
<line x1="44.2" y1="667.7" x2="47" y2="667.7" stroke="#111" stroke-width="1.15"/>
<text x="42.2" y="670.98" font-size="8" text-anchor="end" font-weight="bold" fill="#111" >20</text>
<line x1="69" y1="781.7" x2="69" y2="785.7" stroke="#111" stroke-width="1.15"/>
<text x="69" y="794.6" font-size="9.2" text-anchor="middle" font-weight="bold" fill="#111" >SST</text>
<line x1="117.4" y1="781.7" x2="117.4" y2="785.7" stroke="#111" stroke-width="1.15"/>
<text x="117.4" y="794.6" font-size="9.2" text-anchor="middle" font-weight="bold" fill="#111" >FBS</text>
<line x1="60" y1="756.9" x2="60" y2="763.1" stroke="#444" stroke-width="0.9"/>
<line x1="57" y1="756.9" x2="63" y2="756.9" stroke="#444" stroke-width="0.9"/>
<rect x="54.75" y="763.75" width="10.5" height="17.95" fill="#0a0a0a" stroke="#000" stroke-width="1.3" />
<line x1="77.8" y1="724.2" x2="77.8" y2="728.1" stroke="#444" stroke-width="0.9"/>
<line x1="74.8" y1="724.2" x2="80.8" y2="724.2" stroke="#444" stroke-width="0.9"/>
<rect x="72.55" y="728.75" width="10.5" height="52.95" fill="#e8316b" stroke="#000" stroke-width="1.3" />
<line x1="108.3" y1="697.5" x2="108.3" y2="708.1" stroke="#444" stroke-width="0.9"/>
<line x1="105.3" y1="697.5" x2="111.3" y2="697.5" stroke="#444" stroke-width="0.9"/>
<rect x="103.05" y="708.75" width="10.5" height="72.95" fill="#0a0a0a" stroke="#000" stroke-width="1.3" />
<line x1="126.9" y1="712.5" x2="126.9" y2="716.2" stroke="#444" stroke-width="0.9"/>
<line x1="123.9" y1="712.5" x2="129.9" y2="712.5" stroke="#444" stroke-width="0.9"/>
<rect x="121.65" y="716.85" width="10.5" height="64.85" fill="#e8316b" stroke="#000" stroke-width="1.3" />
<line x1="78.2" y1="676" x2="108.6" y2="676" stroke="#0d0d0d" stroke-width="1.4"/>
<path d="M93.4,667.95L93.4,672.05M91.62,668.98L95.18,671.02M95.18,668.98L91.62,671.02" stroke="#111" stroke-width="1.07" fill="none"/>
<line x1="108.6" y1="687.8" x2="126.9" y2="687.8" stroke="#0d0d0d" stroke-width="1.4"/>
<text x="117.75" y="684" font-size="7.6" text-anchor="middle" font-weight="normal" fill="#111" >ns</text>
<line x1="60" y1="716.9" x2="78.2" y2="716.9" stroke="#0d0d0d" stroke-width="1.4"/>
<path d="M63.7,708.85L63.7,712.95M61.92,709.88L65.48,711.92M65.48,709.88L61.92,711.92" stroke="#111" stroke-width="1.07" fill="none"/>
<path d="M69.1,708.85L69.1,712.95M67.32,709.88L70.88,711.92M70.88,709.88L67.32,711.92" stroke="#111" stroke-width="1.07" fill="none"/>
<path d="M74.5,708.85L74.5,712.95M72.72,709.88L76.28,711.92M76.28,709.88L72.72,711.92" stroke="#111" stroke-width="1.07" fill="none"/>
<rect x="57.5" y="640.1" width="8.8" height="4.8" fill="#0a0a0a" stroke="#000" stroke-width="0.8" />
<text x="72.2" y="645.34" font-size="7.9" text-anchor="start" font-weight="bold" fill="#111" >inhibitor-nc</text>
<rect x="57.5" y="653.7" width="8.8" height="4.8" fill="#e8316b" stroke="#000" stroke-width="0.8" />
<text x="72.2" y="658.94" font-size="7.9" text-anchor="start" font-weight="bold" fill="#111" >inhibitor-337</text>
<text transform="translate(28.4,724.8) rotate(-90)" font-size="7.8" text-anchor="middle" font-weight="bold" fill="#111">EdU+ cells ( % )</text>
<line x1="390" y1="667.23" x2="390" y2="781.38" stroke="#111" stroke-width="1.15"/>
<line x1="389.43" y1="780.8" x2="481.4" y2="780.8" stroke="#111" stroke-width="1.15"/>
<line x1="387.2" y1="780.8" x2="390" y2="780.8" stroke="#111" stroke-width="1.15"/>
<text x="385.9" y="784.08" font-size="8" text-anchor="end" font-weight="bold" fill="#111" >0</text>
<line x1="387.2" y1="743.13" x2="390" y2="743.13" stroke="#111" stroke-width="1.15"/>
<text x="385.9" y="746.41" font-size="8" text-anchor="end" font-weight="bold" fill="#111" >5</text>
<line x1="387.2" y1="705.47" x2="390" y2="705.47" stroke="#111" stroke-width="1.15"/>
<text x="385.9" y="708.75" font-size="8" text-anchor="end" font-weight="bold" fill="#111" >10</text>
<line x1="387.2" y1="667.8" x2="390" y2="667.8" stroke="#111" stroke-width="1.15"/>
<text x="385.9" y="671.08" font-size="8" text-anchor="end" font-weight="bold" fill="#111" >15</text>
<line x1="412.2" y1="780.8" x2="412.2" y2="784.8" stroke="#111" stroke-width="1.15"/>
<text x="412.2" y="793.6" font-size="9.2" text-anchor="middle" font-weight="bold" fill="#111" >SST</text>
<line x1="459.6" y1="780.8" x2="459.6" y2="784.8" stroke="#111" stroke-width="1.15"/>
<text x="459.6" y="793.6" font-size="9.2" text-anchor="middle" font-weight="bold" fill="#111" >FBS</text>
<line x1="403.15" y1="767.1" x2="403.15" y2="769.6" stroke="#444" stroke-width="0.9"/>
<line x1="400.15" y1="767.1" x2="406.15" y2="767.1" stroke="#444" stroke-width="0.9"/>
<rect x="398.05" y="770.25" width="10.2" height="10.55" fill="#0a0a0a" stroke="#000" stroke-width="1.3" />
<line x1="421.25" y1="770.1" x2="421.25" y2="773.1" stroke="#444" stroke-width="0.9"/>
<line x1="418.25" y1="770.1" x2="424.25" y2="770.1" stroke="#444" stroke-width="0.9"/>
<rect x="416.15" y="773.75" width="10.2" height="7.05" fill="#e8316b" stroke="#000" stroke-width="1.3" />
<line x1="451.15" y1="707.4" x2="451.15" y2="716.9" stroke="#444" stroke-width="0.9"/>
<line x1="448.15" y1="707.4" x2="454.15" y2="707.4" stroke="#444" stroke-width="0.9"/>
<rect x="446.05" y="717.55" width="10.2" height="63.25" fill="#0a0a0a" stroke="#000" stroke-width="1.3" />
<line x1="469.15" y1="743.3" x2="469.15" y2="745.3" stroke="#444" stroke-width="0.9"/>
<line x1="466.15" y1="743.3" x2="472.15" y2="743.3" stroke="#444" stroke-width="0.9"/>
<rect x="464.05" y="745.95" width="10.2" height="34.85" fill="#e8316b" stroke="#000" stroke-width="1.3" />
<line x1="421.3" y1="684.8" x2="450.9" y2="684.8" stroke="#0d0d0d" stroke-width="1.4"/>
<path d="M430.7,676.75L430.7,680.85M428.92,677.77L432.48,679.82M432.48,677.77L428.92,679.82" stroke="#111" stroke-width="1.07" fill="none"/>
<path d="M436.1,676.75L436.1,680.85M434.32,677.77L437.88,679.82M437.88,677.77L434.32,679.82" stroke="#111" stroke-width="1.07" fill="none"/>
<path d="M441.5,676.75L441.5,680.85M439.72,677.77L443.28,679.82M443.28,677.77L439.72,679.82" stroke="#111" stroke-width="1.07" fill="none"/>
<line x1="450.9" y1="701" x2="469" y2="701" stroke="#0d0d0d" stroke-width="1.4"/>
<path d="M454.55,692.95L454.55,697.05M452.77,693.98L456.33,696.02M456.33,693.98L452.77,696.02" stroke="#111" stroke-width="1.07" fill="none"/>
<path d="M459.95,692.95L459.95,697.05M458.17,693.98L461.73,696.02M461.73,693.98L458.17,696.02" stroke="#111" stroke-width="1.07" fill="none"/>
<path d="M465.35,692.95L465.35,697.05M463.57,693.98L467.13,696.02M467.13,693.98L463.57,696.02" stroke="#111" stroke-width="1.07" fill="none"/>
<line x1="403.2" y1="757" x2="421.3" y2="757" stroke="#0d0d0d" stroke-width="1.4"/>
<text x="412.25" y="753.2" font-size="7.6" text-anchor="middle" font-weight="normal" fill="#111" >ns</text>
<rect x="400.4" y="641.4" width="9.1" height="4.8" fill="#0a0a0a" stroke="#000" stroke-width="0.8" />
<text x="415.1" y="646.64" font-size="7.9" text-anchor="start" font-weight="bold" fill="#111" >mimic-nc</text>
<rect x="400.4" y="655" width="9.1" height="4.8" fill="#e8316b" stroke="#000" stroke-width="0.8" />
<text x="415.1" y="660.24" font-size="7.9" text-anchor="start" font-weight="bold" fill="#111" >mimic-337</text>
<text transform="translate(370.7,724.5) rotate(-90)" font-size="7.75" text-anchor="middle" font-weight="bold" fill="#111">EdU+ cells ( % )</text>
<rect x="534" y="440" width="122.5" height="18.4" fill="#fcfcfc" />
<text x="619.3" y="453" font-size="14.9" text-anchor="middle" font-weight="normal" fill="#111" >hMSCs</text>
<line x1="584.4" y1="468.1" x2="584.4" y2="507.2" stroke="#111" stroke-width="1.2"/>
<line x1="584.4" y1="514.6" x2="584.4" y2="573.5" stroke="#111" stroke-width="1.2"/>
<line x1="583.8" y1="572.9" x2="654.6" y2="572.9" stroke="#111" stroke-width="1.2"/>
<line x1="581.4" y1="504.7" x2="587.3" y2="510.6" stroke="#111" stroke-width="1"/>
<line x1="581.6" y1="512" x2="587.3" y2="517.5" stroke="#111" stroke-width="1"/>
<line x1="580.2" y1="473.6" x2="584.4" y2="473.6" stroke="#111" stroke-width="1.1"/>
<text x="567.9" y="476.2" font-size="7.0" font-weight="bold" textLength="10.8" lengthAdjust="spacingAndGlyphs" fill="#111">1.4</text>
<line x1="580.2" y1="484.2" x2="584.4" y2="484.2" stroke="#111" stroke-width="1.1"/>
<text x="567.9" y="486.8" font-size="7.0" font-weight="bold" textLength="10.8" lengthAdjust="spacingAndGlyphs" fill="#111">1.2</text>
<line x1="580.2" y1="494.6" x2="584.4" y2="494.6" stroke="#111" stroke-width="1.1"/>
<text x="567.9" y="497.2" font-size="7.0" font-weight="bold" textLength="10.8" lengthAdjust="spacingAndGlyphs" fill="#111">1.0</text>
<line x1="580.2" y1="505.1" x2="584.4" y2="505.1" stroke="#111" stroke-width="1.1"/>
<text x="567.9" y="507.7" font-size="7.0" font-weight="bold" textLength="10.8" lengthAdjust="spacingAndGlyphs" fill="#111">0.8</text>
<line x1="580.2" y1="515.4" x2="584.4" y2="515.4" stroke="#111" stroke-width="1.1"/>
<text x="563.8" y="518" font-size="7.0" font-weight="bold" textLength="14.9" lengthAdjust="spacingAndGlyphs" fill="#111">0.20</text>
<line x1="580.2" y1="529.7" x2="584.4" y2="529.7" stroke="#111" stroke-width="1.1"/>
<text x="563.8" y="532.3" font-size="7.0" font-weight="bold" textLength="14.9" lengthAdjust="spacingAndGlyphs" fill="#111">0.15</text>
<line x1="580.2" y1="544.1" x2="584.4" y2="544.1" stroke="#111" stroke-width="1.1"/>
<text x="563.8" y="546.7" font-size="7.0" font-weight="bold" textLength="14.9" lengthAdjust="spacingAndGlyphs" fill="#111">0.10</text>
<line x1="580.2" y1="558.5" x2="584.4" y2="558.5" stroke="#111" stroke-width="1.1"/>
<text x="563.8" y="561.1" font-size="7.0" font-weight="bold" textLength="14.9" lengthAdjust="spacingAndGlyphs" fill="#111">0.05</text>
<line x1="580.2" y1="572.9" x2="584.4" y2="572.9" stroke="#111" stroke-width="1.1"/>
<text x="563.8" y="575.5" font-size="7.0" font-weight="bold" textLength="14.9" lengthAdjust="spacingAndGlyphs" fill="#111">0.00</text>
<path d="M592.8,506.8 V491.1 H604.6 V506.8 M592.8,515.4 V572.9 M604.6,515.4 V572.9" fill="none" stroke="#000" stroke-width="1.6"/>
<line x1="598.7" y1="491.1" x2="598.7" y2="483.6" stroke="#666" stroke-width="0.8"/>
<line x1="595.6" y1="483.6" x2="601.8" y2="483.6" stroke="#666" stroke-width="0.8"/>
<circle cx="598.4" cy="483.3" r="1.45" fill="#000"/>
<circle cx="595.2" cy="494.1" r="1.45" fill="#000"/>
<circle cx="601.9" cy="494.4" r="1.45" fill="#000"/>
<path d="M613.8,572.9 V570.4 H625.3 V572.9" fill="none" stroke="#e02020" stroke-width="1.7"/>
<circle cx="614.8" cy="570.3" r="1.4" fill="#e02020"/>
<circle cx="617.7" cy="570.3" r="1.4" fill="#e02020"/>
<circle cx="620.6" cy="570.3" r="1.4" fill="#e02020"/>
<circle cx="623.6" cy="570.3" r="1.4" fill="#e02020"/>
<path d="M635.2,572.9 V528.6 H646.1 V572.9" fill="none" stroke="#2a4fc0" stroke-width="1.7"/>
<circle cx="636.3" cy="528.6" r="1.4" fill="#2a4fc0"/>
<circle cx="639.2" cy="528.6" r="1.4" fill="#2a4fc0"/>
<circle cx="642.1" cy="528.6" r="1.4" fill="#2a4fc0"/>
<circle cx="645.0" cy="528.6" r="1.4" fill="#2a4fc0"/>
<line x1="598.8" y1="572.9" x2="598.8" y2="575.6" stroke="#111" stroke-width="1.1"/>
<line x1="619.3" y1="572.9" x2="619.3" y2="575.6" stroke="#111" stroke-width="1.1"/>
<line x1="640.7" y1="572.9" x2="640.7" y2="575.6" stroke="#111" stroke-width="1.1"/>
<line x1="597.9" y1="469.4" x2="641.8" y2="469.4" stroke="#111" stroke-width="1.1"/>
<polygon points="614.35,462.5 615.14,464.11 616.92,464.37 615.63,465.62 615.94,467.38 614.35,466.55 612.76,467.38 613.07,465.62 611.78,464.37 613.56,464.11" fill="#111"/>
<polygon points="619.85,462.5 620.64,464.11 622.42,464.37 621.13,465.62 621.44,467.38 619.85,466.55 618.26,467.38 618.57,465.62 617.28,464.37 619.06,464.11" fill="#111"/>
<polygon points="625.35,462.5 626.14,464.11 627.92,464.37 626.63,465.62 626.94,467.38 625.35,466.55 623.76,467.38 624.07,465.62 622.78,464.37 624.56,464.11" fill="#111"/>
<line x1="597.9" y1="479.7" x2="621" y2="479.7" stroke="#666" stroke-width="1.4"/>
<polygon points="603.95,472.8 604.74,474.41 606.52,474.67 605.23,475.92 605.54,477.68 603.95,476.85 602.36,477.68 602.67,475.92 601.38,474.67 603.16,474.41" fill="#111"/>
<polygon points="609.45,472.8 610.24,474.41 612.02,474.67 610.73,475.92 611.04,477.68 609.45,476.85 607.86,477.68 608.17,475.92 606.88,474.67 608.66,474.41" fill="#111"/>
<polygon points="614.95,472.8 615.74,474.41 617.52,474.67 616.23,475.92 616.54,477.68 614.95,476.85 613.36,477.68 613.67,475.92 612.38,474.67 614.16,474.41" fill="#111"/>
<line x1="619.8" y1="520.7" x2="643" y2="520.7" stroke="#333" stroke-width="1.2"/>
<polygon points="625.9,513.8 626.69,515.41 628.47,515.67 627.18,516.92 627.49,518.68 625.9,517.85 624.31,518.68 624.62,516.92 623.33,515.67 625.11,515.41" fill="#111"/>
<polygon points="631.4,513.8 632.19,515.41 633.97,515.67 632.68,516.92 632.99,518.68 631.4,517.85 629.81,518.68 630.12,516.92 628.83,515.67 630.61,515.41" fill="#111"/>
<polygon points="636.9,513.8 637.69,515.41 639.47,515.67 638.18,516.92 638.49,518.68 636.9,517.85 635.31,518.68 635.62,516.92 634.33,515.67 636.11,515.41" fill="#111"/>
<text transform="translate(603.3,583.8) rotate(-45)" font-size="9.2" text-anchor="end" fill="#111">SSt</text>
<text transform="translate(623.8,583.8) rotate(-45)" font-size="9.2" text-anchor="end" fill="#111">FBS</text>
<text transform="translate(646,583.8) rotate(-45)" font-size="9.2" text-anchor="end" fill="#111">10% CMS</text>
<text transform="translate(544.3,521) rotate(-90)" font-size="11.6" text-anchor="middle" fill="#111">Relative miR-337 level</text>
<text transform="translate(558.2,520.3) rotate(-90)" font-size="11.6" text-anchor="middle" fill="#111">(Fold changes)</text>
<rect x="363.5" y="41.4" width="224.1" height="18.7" fill="#fff" stroke="#dadada" stroke-width="0.8" />
<text x="318.57" y="52.14" font-size="9.9" font-weight="bold" textLength="37.43" lengthAdjust="spacingAndGlyphs" fill="#111">P-mTOR</text>
<line x1="596.8" y1="49.2" x2="605.6" y2="49.2" stroke="#111" stroke-width="1.5"/>
<text x="609.2" y="52.67" font-size="9.7" font-weight="bold" textLength="32.92" lengthAdjust="spacingAndGlyphs" fill="#111">300kDa</text>
<rect x="368.25" y="50" width="8" height="2.8" rx="0.84" fill="#000" opacity="1" filter="url(#bl8)"/>
<rect x="376.55" y="50" width="9" height="2.8" rx="0.84" fill="#000" opacity="1" filter="url(#bl8)"/>
<rect x="395.35" y="49.5" width="18.6" height="4.6" rx="1.38" fill="#000" opacity="1" filter="url(#bl8)"/>
<rect x="423.75" y="49.78" width="7.7" height="2.24" rx="0.67" fill="#000" opacity="0.95" filter="url(#bl8)"/>
<rect x="433.95" y="49.86" width="7.2" height="2.08" rx="0.62" fill="#000" opacity="0.6" filter="url(#bl8)"/>
<rect x="452.65" y="49.72" width="8.2" height="2.56" rx="0.77" fill="#000" opacity="0.95" filter="url(#bl8)"/>
<rect x="461.15" y="49.72" width="8" height="2.56" rx="0.77" fill="#000" opacity="0.95" filter="url(#bl8)"/>
<rect x="479.45" y="49.45" width="18.6" height="3.9" rx="1.17" fill="#000" opacity="1" filter="url(#bl8)"/>
<rect x="507.45" y="49.2" width="19.2" height="4.2" rx="1.26" fill="#000" opacity="1" filter="url(#bl8)"/>
<rect x="536.05" y="49.38" width="7.2" height="2.24" rx="0.67" fill="#000" opacity="0.95" filter="url(#bl8)"/>
<rect x="545.65" y="49.38" width="7.2" height="2.24" rx="0.67" fill="#000" opacity="0.95" filter="url(#bl8)"/>
<rect x="564.05" y="50" width="8.1" height="1.6" rx="0.48" fill="#000" opacity="0.75" filter="url(#bl8)"/>
<rect x="572.35" y="50.08" width="9.4" height="2.24" rx="0.67" fill="#000" opacity="0.95" filter="url(#bl8)"/>
<rect x="363.5" y="62.2" width="224.1" height="19.3" fill="#fff" stroke="#dadada" stroke-width="0.8" />
<text x="327.97" y="76.14" font-size="9.9" font-weight="bold" textLength="28.03" lengthAdjust="spacingAndGlyphs" fill="#111">mTOR</text>
<line x1="596.8" y1="72.3" x2="605.6" y2="72.3" stroke="#111" stroke-width="1.5"/>
<text x="609.2" y="75.77" font-size="9.7" font-weight="bold" textLength="32.92" lengthAdjust="spacingAndGlyphs" fill="#111">300kDa</text>
<rect x="369.95" y="71" width="18.6" height="2.8" rx="0.84" fill="#000" opacity="1" filter="url(#bl8)"/>
<rect x="397.15" y="70.2" width="20" height="4.2" rx="1.26" fill="#000" opacity="1" filter="url(#bl8)"/>
<rect x="425.15" y="70.42" width="19.8" height="2.56" rx="0.77" fill="#000" opacity="1" filter="url(#bl8)"/>
<rect x="452.85" y="70.38" width="18.9" height="2.24" rx="0.67" fill="#000" opacity="1" filter="url(#bl8)"/>
<rect x="480.55" y="70.5" width="19.8" height="2.8" rx="0.84" fill="#000" opacity="1" filter="url(#bl8)"/>
<rect x="508.35" y="70.5" width="19.5" height="2.8" rx="0.84" fill="#000" opacity="1" filter="url(#bl8)"/>
<rect x="536.05" y="70.8" width="19.1" height="2.4" rx="0.72" fill="#000" opacity="1" filter="url(#bl8)"/>
<rect x="563.55" y="71.08" width="19.1" height="2.24" rx="0.67" fill="#000" opacity="1" filter="url(#bl8)"/>
<rect x="363.5" y="88.2" width="224.1" height="18.3" fill="#fff" stroke="#dadada" stroke-width="0.8" />
<text x="331.97" y="99.14" font-size="9.9" font-weight="bold" textLength="24.03" lengthAdjust="spacingAndGlyphs" fill="#111">IRS-1</text>
<line x1="596.8" y1="95.6" x2="605.6" y2="95.6" stroke="#111" stroke-width="1.5"/>
<text x="609.2" y="99.07" font-size="9.7" font-weight="bold" textLength="32.92" lengthAdjust="spacingAndGlyphs" fill="#111">180kDa</text>
<rect x="371.95" y="95.9" width="2.3" height="2" rx="0.6" fill="#000" opacity="0.25" filter="url(#bl8)"/>
<rect x="384.95" y="96.02" width="1.9" height="1.76" rx="0.53" fill="#000" opacity="0.2" filter="url(#bl8)"/>
<rect x="398.05" y="93.85" width="9.6" height="5.3" rx="1.59" fill="#000" opacity="1" filter="url(#bl8)"/>
<rect x="404.35" y="95.25" width="12.3" height="2.9" rx="0.87" fill="#000" opacity="0.85" filter="url(#bl8)"/>
<rect x="426.35" y="95.9" width="2.3" height="2" rx="0.6" fill="#000" opacity="0.3" filter="url(#bl8)"/>
<rect x="439.15" y="95.9" width="2.1" height="2" rx="0.6" fill="#000" opacity="0.35" filter="url(#bl8)"/>
<rect x="454.95" y="95.9" width="2.1" height="2" rx="0.6" fill="#000" opacity="0.35" filter="url(#bl8)"/>
<rect x="467.55" y="95.9" width="2.1" height="2" rx="0.6" fill="#000" opacity="0.6" filter="url(#bl8)"/>
<rect x="479.95" y="93.75" width="19.1" height="5.5" rx="1.65" fill="#000" opacity="1" filter="url(#bl8)"/>
<rect x="508.05" y="92.55" width="18.6" height="8.1" rx="2.43" fill="#000" opacity="1" filter="url(#bl8)"/>
<rect x="536.35" y="95.38" width="2.3" height="2.24" rx="0.67" fill="#000" opacity="0.8" filter="url(#bl8)"/>
<rect x="548.55" y="95.1" width="3.3" height="2.8" rx="0.84" fill="#000" opacity="1" filter="url(#bl8)"/>
<rect x="563.85" y="95.1" width="3.3" height="2.8" rx="0.84" fill="#000" opacity="1" filter="url(#bl8)"/>
<rect x="577.65" y="95.3" width="2.7" height="2.4" rx="0.72" fill="#000" opacity="0.85" filter="url(#bl8)"/>
<rect x="363.5" y="109.2" width="224.1" height="18.9" fill="#fafafa" stroke="#dadada" stroke-width="0.8" />
<text x="331.45" y="122.14" font-size="9.9" font-weight="bold" textLength="24.55" lengthAdjust="spacingAndGlyphs" fill="#111">P-Akt</text>
<line x1="596.8" y1="118.8" x2="605.6" y2="118.8" stroke="#111" stroke-width="1.5"/>
<text x="609.2" y="122.27" font-size="9.7" font-weight="bold" textLength="27.7" lengthAdjust="spacingAndGlyphs" fill="#111">60kDa</text>
<rect x="390.35" y="111.35" width="61.3" height="15.3" rx="4.59" fill="#000" opacity="0.04" filter="url(#bl15)"/>
<rect x="369.85" y="116.72" width="4.8" height="1.76" rx="0.53" fill="#000" opacity="0.8" filter="url(#bl8)"/>
<rect x="383.35" y="116.56" width="5.3" height="2.08" rx="0.62" fill="#000" opacity="0.95" filter="url(#bl8)"/>
<rect x="396.25" y="115.9" width="21.2" height="4" rx="1.2" fill="#000" opacity="1" filter="url(#bl8)"/>
<rect x="423.85" y="116.24" width="5" height="2.72" rx="0.82" fill="#000" opacity="1" filter="url(#bl8)"/>
<rect x="436.95" y="116.64" width="5.2" height="1.92" rx="0.58" fill="#000" opacity="0.8" filter="url(#bl8)"/>
<rect x="452.55" y="116.72" width="4.9" height="1.76" rx="0.53" fill="#000" opacity="0.75" filter="url(#bl8)"/>
<rect x="465.85" y="116.48" width="5.4" height="2.24" rx="0.67" fill="#000" opacity="0.9" filter="url(#bl8)"/>
<rect x="478.25" y="116.7" width="20.8" height="2.4" rx="0.72" fill="#000" opacity="1" filter="url(#bl8)"/>
<rect x="505.95" y="116.8" width="20.3" height="2.4" rx="0.72" fill="#000" opacity="1" filter="url(#bl8)"/>
<rect x="534.15" y="116.72" width="3.9" height="1.76" rx="0.53" fill="#000" opacity="0.7" filter="url(#bl8)"/>
<rect x="547.85" y="116.8" width="4.6" height="1.6" rx="0.48" fill="#000" opacity="0.45" filter="url(#bl8)"/>
<rect x="562.55" y="116.72" width="4.1" height="1.76" rx="0.53" fill="#000" opacity="0.7" filter="url(#bl8)"/>
<rect x="576.65" y="116.72" width="4.3" height="1.76" rx="0.53" fill="#000" opacity="0.65" filter="url(#bl8)"/>
<rect x="363.5" y="132.2" width="224.1" height="18.7" fill="#fff" stroke="#dadada" stroke-width="0.8" />
<text x="340.85" y="145.44" font-size="9.9" font-weight="bold" textLength="15.15" lengthAdjust="spacingAndGlyphs" fill="#111">Akt</text>
<line x1="596.8" y1="142" x2="605.6" y2="142" stroke="#111" stroke-width="1.5"/>
<text x="609.2" y="145.47" font-size="9.7" font-weight="bold" textLength="27.7" lengthAdjust="spacingAndGlyphs" fill="#111">60kDa</text>
<rect x="368.75" y="138.95" width="20.3" height="4.5" rx="1.35" fill="#000" opacity="1" filter="url(#bl8)"/>
<rect x="395.35" y="139.05" width="21.3" height="4.3" rx="1.29" fill="#000" opacity="1" filter="url(#bl8)"/>
<rect x="422.85" y="139.05" width="20.9" height="4.3" rx="1.29" fill="#000" opacity="1" filter="url(#bl8)"/>
<rect x="450.25" y="138.85" width="20.6" height="4.3" rx="1.29" fill="#000" opacity="1" filter="url(#bl8)"/>
<rect x="477.35" y="138.65" width="21.2" height="4.3" rx="1.29" fill="#000" opacity="1" filter="url(#bl8)"/>
<rect x="505.05" y="138.55" width="21.2" height="4.3" rx="1.29" fill="#000" opacity="1" filter="url(#bl8)"/>
<rect x="532.55" y="138.55" width="20.8" height="4.3" rx="1.29" fill="#000" opacity="1" filter="url(#bl8)"/>
<rect x="559.65" y="138.25" width="21.8" height="4.9" rx="1.47" fill="#000" opacity="1" filter="url(#bl8)"/>
<rect x="363.5" y="154.9" width="224.1" height="18.6" fill="#fff" stroke="#dadada" stroke-width="0.8" />
<text x="322.05" y="167.84" font-size="9.9" font-weight="bold" textLength="33.95" lengthAdjust="spacingAndGlyphs" fill="#111">GAPDH</text>
<line x1="596.8" y1="164.8" x2="605.6" y2="164.8" stroke="#111" stroke-width="1.5"/>
<text x="609.2" y="168.27" font-size="9.7" font-weight="bold" textLength="27.7" lengthAdjust="spacingAndGlyphs" fill="#111">36kDa</text>
<rect x="368.25" y="161.05" width="20.3" height="4.7" rx="1.41" fill="#000" opacity="1" filter="url(#bl8)"/>
<rect x="395.95" y="161.35" width="20.7" height="4.5" rx="1.35" fill="#000" opacity="1" filter="url(#bl8)"/>
<rect x="423.35" y="161.15" width="20.9" height="5.3" rx="1.59" fill="#000" opacity="1" filter="url(#bl8)"/>
<rect x="451.05" y="161.35" width="20.7" height="4.7" rx="1.41" fill="#000" opacity="1" filter="url(#bl8)"/>
<rect x="479.95" y="162.45" width="18.6" height="3.5" rx="1.05" fill="#000" opacity="1" filter="url(#bl8)"/>
<rect x="506.25" y="162.05" width="19.8" height="4.3" rx="1.29" fill="#000" opacity="1" filter="url(#bl8)"/>
<rect x="533.05" y="161.75" width="20.3" height="4.9" rx="1.47" fill="#000" opacity="1" filter="url(#bl8)"/>
<rect x="560.25" y="161.35" width="21.5" height="5.3" rx="1.59" fill="#000" opacity="1" filter="url(#bl8)"/>
<text x="423.5" y="31.6" font-size="10.7" text-anchor="middle" font-weight="bold" fill="#111" >0% CMS</text>
<text x="532" y="31.6" font-size="10.7" text-anchor="middle" font-weight="bold" fill="#111" >10% CMS</text>
<line x1="368.8" y1="35.6" x2="469.4" y2="35.6" stroke="#333" stroke-width="1.1"/>
<line x1="479" y1="35.6" x2="579.2" y2="35.6" stroke="#333" stroke-width="1.1"/>
<text transform="translate(378.7,193.6) rotate(-45)" font-size="6.0" text-anchor="middle" font-weight="bold" fill="#111">inhibitor-nc</text>
<text transform="translate(384.29,199.19) rotate(-45)" font-size="6.0" text-anchor="middle" font-weight="bold" fill="#111">+si-nc</text>
<text transform="translate(405,193.6) rotate(-45)" font-size="6.0" text-anchor="middle" font-weight="bold" fill="#111">inhibitor-337</text>
<text transform="translate(410.59,199.19) rotate(-45)" font-size="6.0" text-anchor="middle" font-weight="bold" fill="#111">+si-nc</text>
<text transform="translate(432.3,193.6) rotate(-45)" font-size="6.0" text-anchor="middle" font-weight="bold" fill="#111">inhibitor-nc</text>
<text transform="translate(437.89,199.19) rotate(-45)" font-size="6.0" text-anchor="middle" font-weight="bold" fill="#111">+si-IRS-1</text>
<text transform="translate(459.3,193.6) rotate(-45)" font-size="6.0" text-anchor="middle" font-weight="bold" fill="#111">inhibitor-337</text>
<text transform="translate(464.89,199.19) rotate(-45)" font-size="6.0" text-anchor="middle" font-weight="bold" fill="#111">+si-IRS-1</text>
<text transform="translate(487.3,193.6) rotate(-45)" font-size="6.0" text-anchor="middle" font-weight="bold" fill="#111">inhibitor-nc</text>
<text transform="translate(492.89,199.19) rotate(-45)" font-size="6.0" text-anchor="middle" font-weight="bold" fill="#111">+si-nc</text>
<text transform="translate(514.3,193.6) rotate(-45)" font-size="6.0" text-anchor="middle" font-weight="bold" fill="#111">inhibitor-337</text>
<text transform="translate(519.89,199.19) rotate(-45)" font-size="6.0" text-anchor="middle" font-weight="bold" fill="#111">+si-nc</text>
<text transform="translate(540.9,193.6) rotate(-45)" font-size="6.0" text-anchor="middle" font-weight="bold" fill="#111">inhibitor-nc</text>
<text transform="translate(546.49,199.19) rotate(-45)" font-size="6.0" text-anchor="middle" font-weight="bold" fill="#111">+si-IRS-1</text>
<text transform="translate(568.6,193.6) rotate(-45)" font-size="6.0" text-anchor="middle" font-weight="bold" fill="#111">inhibitor-337</text>
<text transform="translate(574.19,199.19) rotate(-45)" font-size="6.0" text-anchor="middle" font-weight="bold" fill="#111">+si-IRS-1</text>
<rect x="360" y="238.6" width="227.4" height="20.4" fill="#fbfbfb" stroke="#ededed" stroke-width="0.8" />
<text x="314.37" y="252.11" font-size="9.8" font-weight="bold" textLength="37.43" lengthAdjust="spacingAndGlyphs" fill="#111">P-mTOR</text>
<line x1="596.2" y1="248.8" x2="605.4" y2="248.8" stroke="#111" stroke-width="1.5"/>
<text x="608.7" y="252.27" font-size="9.7" font-weight="bold" textLength="32.92" lengthAdjust="spacingAndGlyphs" fill="#111">300kDa</text>
<rect x="365.85" y="246.55" width="4.3" height="1.5" rx="0.45" fill="#000" opacity="0.9" filter="url(#bl8)"/>
<rect x="377.15" y="246.62" width="5" height="1.77" rx="0.53" fill="#000" opacity="0.95" filter="url(#bl8)"/>
<rect x="393.05" y="246.55" width="4.1" height="1.5" rx="0.45" fill="#000" opacity="0.9" filter="url(#bl8)"/>
<rect x="406.15" y="246.78" width="4" height="1.63" rx="0.49" fill="#000" opacity="0.9" filter="url(#bl8)"/>
<rect x="421.35" y="246.64" width="16.8" height="3.12" rx="0.94" fill="#000" opacity="1" filter="url(#bl8)"/>
<rect x="448.85" y="247.41" width="16.8" height="2.38" rx="0.71" fill="#000" opacity="1" filter="url(#bl8)"/>
<rect x="476.45" y="247.51" width="16.9" height="2.38" rx="0.71" fill="#000" opacity="1" filter="url(#bl8)"/>
<rect x="504.55" y="248.02" width="15.9" height="1.36" rx="0.41" fill="#000" opacity="0.3" filter="url(#bl8)"/>
<rect x="531.65" y="246.66" width="16.8" height="2.87" rx="0.86" fill="#000" opacity="1" filter="url(#bl8)"/>
<rect x="559.65" y="246.11" width="17.2" height="2.38" rx="0.71" fill="#000" opacity="1" filter="url(#bl8)"/>
<rect x="360" y="262.6" width="227.4" height="19.6" fill="#f6f6f6" stroke="#ededed" stroke-width="0.8" />
<rect x="365" y="263.2" width="20" height="18.19999999999999" fill="#e6e6e6" filter="url(#bl8)"/>
<rect x="391" y="263.2" width="22" height="18.19999999999999" fill="#e6e6e6" filter="url(#bl8)"/>
<rect x="420" y="263.2" width="20" height="18.19999999999999" fill="#e6e6e6" filter="url(#bl8)"/>
<rect x="448" y="263.2" width="20" height="18.19999999999999" fill="#e6e6e6" filter="url(#bl8)"/>
<rect x="476" y="263.2" width="20.5" height="18.19999999999999" fill="#e6e6e6" filter="url(#bl8)"/>
<rect x="503.5" y="263.2" width="21.0" height="18.19999999999999" fill="#e6e6e6" filter="url(#bl8)"/>
<rect x="532.5" y="263.2" width="20.0" height="18.19999999999999" fill="#e6e6e6" filter="url(#bl8)"/>
<rect x="559.5" y="263.2" width="21.5" height="18.19999999999999" fill="#e6e6e6" filter="url(#bl8)"/>
<text x="323.77" y="275.51" font-size="9.8" font-weight="bold" textLength="28.03" lengthAdjust="spacingAndGlyphs" fill="#111">mTOR</text>
<line x1="596.2" y1="272" x2="605.4" y2="272" stroke="#111" stroke-width="1.5"/>
<text x="608.7" y="275.47" font-size="9.7" font-weight="bold" textLength="32.92" lengthAdjust="spacingAndGlyphs" fill="#111">300kDa</text>
<rect x="365.65" y="270.21" width="18.5" height="2.18" rx="0.65" fill="#000" opacity="1" filter="url(#bl8)"/>
<rect x="391.85" y="270.21" width="20" height="2.18" rx="0.65" fill="#000" opacity="1" filter="url(#bl8)"/>
<rect x="420.75" y="270.28" width="18.1" height="2.04" rx="0.61" fill="#000" opacity="1" filter="url(#bl8)"/>
<rect x="448.85" y="270.28" width="18.5" height="2.04" rx="0.61" fill="#000" opacity="1" filter="url(#bl8)"/>
<rect x="477.05" y="269.31" width="18.5" height="2.18" rx="0.65" fill="#000" opacity="1" filter="url(#bl8)"/>
<rect x="504.55" y="269.45" width="19.1" height="1.9" rx="0.57" fill="#000" opacity="0.8" filter="url(#bl8)"/>
<rect x="533.35" y="269.31" width="18.3" height="2.18" rx="0.65" fill="#000" opacity="1" filter="url(#bl8)"/>
<rect x="560.55" y="268.94" width="19.5" height="2.72" rx="0.82" fill="#000" opacity="1" filter="url(#bl8)"/>
<rect x="360" y="286" width="227.4" height="18.5" fill="#f7f7f7" stroke="#ededed" stroke-width="0.8" />
<text x="327.77" y="298.81" font-size="9.8" font-weight="bold" textLength="24.03" lengthAdjust="spacingAndGlyphs" fill="#111">IRS-1</text>
<line x1="596.2" y1="295.9" x2="605.4" y2="295.9" stroke="#111" stroke-width="1.5"/>
<text x="608.7" y="299.37" font-size="9.7" font-weight="bold" textLength="32.92" lengthAdjust="spacingAndGlyphs" fill="#111">180kDa</text>
<rect x="364.75" y="293.81" width="21.2" height="2.58" rx="0.78" fill="#000" opacity="1" filter="url(#bl8)"/>
<rect x="392.75" y="294.22" width="21.6" height="1.77" rx="0.53" fill="#000" opacity="0.65" filter="url(#bl8)"/>
<rect x="421.65" y="293.74" width="18.9" height="2.72" rx="0.82" fill="#000" opacity="1" filter="url(#bl8)"/>
<rect x="447.95" y="293.44" width="21.2" height="3.12" rx="0.94" fill="#000" opacity="1" filter="url(#bl8)"/>
<rect x="475.65" y="293.04" width="20.6" height="3.12" rx="0.94" fill="#000" opacity="1" filter="url(#bl8)"/>
<rect x="503.65" y="293.31" width="21.7" height="2.58" rx="0.78" fill="#000" opacity="0.95" filter="url(#bl8)"/>
<rect x="532.05" y="292.83" width="19.9" height="3.55" rx="1.06" fill="#000" opacity="1" filter="url(#bl8)"/>
<rect x="559.35" y="292.83" width="21.2" height="3.55" rx="1.06" fill="#000" opacity="1" filter="url(#bl8)"/>
<rect x="360" y="308.8" width="227.4" height="18.9" fill="#f7f7f7" stroke="#ededed" stroke-width="0.8" />
<rect x="365" y="309.3" width="20" height="17.899999999999977" fill="#e9e9e9" filter="url(#bl8)"/>
<rect x="391" y="309.3" width="22" height="17.899999999999977" fill="#e9e9e9" filter="url(#bl8)"/>
<rect x="420" y="309.3" width="20" height="17.899999999999977" fill="#e9e9e9" filter="url(#bl8)"/>
<rect x="448" y="309.3" width="20" height="17.899999999999977" fill="#e9e9e9" filter="url(#bl8)"/>
<rect x="476" y="309.3" width="20.5" height="17.899999999999977" fill="#e9e9e9" filter="url(#bl8)"/>
<rect x="503.5" y="309.3" width="21.0" height="17.899999999999977" fill="#e9e9e9" filter="url(#bl8)"/>
<rect x="532.5" y="309.3" width="20.0" height="17.899999999999977" fill="#e9e9e9" filter="url(#bl8)"/>
<rect x="559.5" y="309.3" width="21.5" height="17.899999999999977" fill="#e9e9e9" filter="url(#bl8)"/>
<text x="327.25" y="322.11" font-size="9.8" font-weight="bold" textLength="24.55" lengthAdjust="spacingAndGlyphs" fill="#111">P-Akt</text>
<line x1="596.2" y1="318.8" x2="605.4" y2="318.8" stroke="#111" stroke-width="1.5"/>
<text x="608.7" y="322.27" font-size="9.7" font-weight="bold" textLength="27.7" lengthAdjust="spacingAndGlyphs" fill="#111">60kDa</text>
<rect x="362.95" y="317.72" width="7.2" height="1.36" rx="0.41" fill="#000" opacity="0.8" filter="url(#bl8)"/>
<rect x="376.15" y="317.21" width="8" height="2.38" rx="0.71" fill="#000" opacity="1" filter="url(#bl8)"/>
<rect x="391.85" y="317.89" width="4.6" height="1.02" rx="0.31" fill="#000" opacity="0.2" filter="url(#bl8)"/>
<rect x="406.75" y="317.55" width="5.5" height="1.7" rx="0.51" fill="#000" opacity="0.9" filter="url(#bl8)"/>
<rect x="419.95" y="316.41" width="19.9" height="3.97" rx="1.19" fill="#000" opacity="1" filter="url(#bl8)"/>
<rect x="446.55" y="316.84" width="22.1" height="3.12" rx="0.94" fill="#000" opacity="1" filter="url(#bl8)"/>
<rect x="475.25" y="316.31" width="20.7" height="2.38" rx="0.71" fill="#000" opacity="1" filter="url(#bl8)"/>
<rect x="503.35" y="317.09" width="2.3" height="0.82" rx="0.24" fill="#000" opacity="0.15" filter="url(#bl8)"/>
<rect x="517.35" y="317.09" width="2.3" height="0.82" rx="0.24" fill="#000" opacity="0.15" filter="url(#bl8)"/>
<rect x="532.55" y="316.35" width="19.1" height="1.9" rx="0.57" fill="#000" opacity="1" filter="url(#bl8)"/>
<rect x="560.55" y="317.35" width="19.8" height="1.7" rx="0.51" fill="#000" opacity="0.85" filter="url(#bl8)"/>
<rect x="360" y="332" width="227.4" height="20.6" fill="#fcfcfc" stroke="#ededed" stroke-width="0.8" />
<text x="336.65" y="345.51" font-size="9.8" font-weight="bold" textLength="15.15" lengthAdjust="spacingAndGlyphs" fill="#111">Akt</text>
<line x1="596.2" y1="342.4" x2="605.4" y2="342.4" stroke="#111" stroke-width="1.5"/>
<text x="608.7" y="345.87" font-size="9.7" font-weight="bold" textLength="27.7" lengthAdjust="spacingAndGlyphs" fill="#111">60kDa</text>
<rect x="367.05" y="340.98" width="19.8" height="2.45" rx="0.73" fill="#000" opacity="1" filter="url(#bl8)"/>
<rect x="393.25" y="340.98" width="20.4" height="2.45" rx="0.73" fill="#000" opacity="1" filter="url(#bl8)"/>
<rect x="420.45" y="340.98" width="20.7" height="2.45" rx="0.73" fill="#000" opacity="1" filter="url(#bl8)"/>
<rect x="447.95" y="340.98" width="20" height="2.45" rx="0.73" fill="#000" opacity="1" filter="url(#bl8)"/>
<rect x="474.75" y="340.71" width="21.2" height="2.58" rx="0.78" fill="#000" opacity="1" filter="url(#bl8)"/>
<rect x="502.25" y="340.71" width="20" height="2.58" rx="0.78" fill="#000" opacity="1" filter="url(#bl8)"/>
<rect x="529.35" y="340.71" width="20.3" height="2.58" rx="0.78" fill="#000" opacity="1" filter="url(#bl8)"/>
<rect x="556.15" y="340.71" width="21.2" height="2.58" rx="0.78" fill="#000" opacity="1" filter="url(#bl8)"/>
<rect x="360" y="355" width="227.4" height="19.5" fill="#f8f8f8" stroke="#ededed" stroke-width="0.8" />
<text x="317.85" y="368.81" font-size="9.8" font-weight="bold" textLength="33.95" lengthAdjust="spacingAndGlyphs" fill="#111">GAPDH</text>
<line x1="596.2" y1="365.6" x2="605.4" y2="365.6" stroke="#111" stroke-width="1.5"/>
<text x="608.7" y="369.07" font-size="9.7" font-weight="bold" textLength="27.7" lengthAdjust="spacingAndGlyphs" fill="#111">36kDa</text>
<rect x="365.25" y="363.34" width="20.3" height="2.31" rx="0.69" fill="#000" opacity="1" filter="url(#bl8)"/>
<rect x="391.55" y="363.04" width="19.3" height="2.31" rx="0.69" fill="#000" opacity="1" filter="url(#bl8)"/>
<rect x="418.55" y="362.18" width="20.3" height="2.45" rx="0.73" fill="#000" opacity="1" filter="url(#bl8)"/>
<rect x="445.65" y="361.81" width="20" height="2.58" rx="0.78" fill="#000" opacity="1" filter="url(#bl8)"/>
<rect x="473.55" y="361.94" width="19.8" height="2.31" rx="0.69" fill="#000" opacity="1" filter="url(#bl8)"/>
<rect x="501.05" y="363.51" width="18.6" height="2.18" rx="0.65" fill="#000" opacity="1" filter="url(#bl8)"/>
<rect x="527.85" y="363.98" width="18" height="2.04" rx="0.61" fill="#000" opacity="1" filter="url(#bl8)"/>
<rect x="552.65" y="362.74" width="23" height="2.72" rx="0.82" fill="#000" opacity="1" filter="url(#bl8)"/>
<text x="420.5" y="230.3" font-size="10.7" text-anchor="middle" font-weight="bold" fill="#111" >0% CMS</text>
<text x="530.3" y="230.3" font-size="10.7" text-anchor="middle" font-weight="bold" fill="#111" >10% CMS</text>
<line x1="365.3" y1="234.5" x2="466.6" y2="234.5" stroke="#333" stroke-width="1.1"/>
<line x1="476.4" y1="234.5" x2="578.3" y2="234.5" stroke="#333" stroke-width="1.1"/>
<text transform="translate(372.8,393.6) rotate(-45)" font-size="6.2" text-anchor="middle" font-weight="bold" fill="#111">mimic-nc</text>
<text transform="translate(378.81,399.61) rotate(-45)" font-size="6.2" text-anchor="middle" font-weight="bold" fill="#111">+LV-nc</text>
<text transform="translate(398.8,393.6) rotate(-45)" font-size="6.2" text-anchor="middle" font-weight="bold" fill="#111">mimic-337</text>
<text transform="translate(404.81,399.61) rotate(-45)" font-size="6.2" text-anchor="middle" font-weight="bold" fill="#111">+LV-nc</text>
<text transform="translate(427.3,393.6) rotate(-45)" font-size="6.2" text-anchor="middle" font-weight="bold" fill="#111">mimic-nc</text>
<text transform="translate(433.31,399.61) rotate(-45)" font-size="6.2" text-anchor="middle" font-weight="bold" fill="#111">+LV-IRS-1</text>
<text transform="translate(454.3,393.6) rotate(-45)" font-size="6.2" text-anchor="middle" font-weight="bold" fill="#111">mimic-337</text>
<text transform="translate(460.31,399.61) rotate(-45)" font-size="6.2" text-anchor="middle" font-weight="bold" fill="#111">+LV-IRS-1</text>
<text transform="translate(482.3,393.6) rotate(-45)" font-size="6.2" text-anchor="middle" font-weight="bold" fill="#111">mimic-nc</text>
<text transform="translate(488.31,399.61) rotate(-45)" font-size="6.2" text-anchor="middle" font-weight="bold" fill="#111">+LV-nc</text>
<text transform="translate(509.8,393.6) rotate(-45)" font-size="6.2" text-anchor="middle" font-weight="bold" fill="#111">mimic-337</text>
<text transform="translate(515.81,399.61) rotate(-45)" font-size="6.2" text-anchor="middle" font-weight="bold" fill="#111">+LV-nc</text>
<text transform="translate(537.8,393.6) rotate(-45)" font-size="6.2" text-anchor="middle" font-weight="bold" fill="#111">mimic-nc</text>
<text transform="translate(543.81,399.61) rotate(-45)" font-size="6.2" text-anchor="middle" font-weight="bold" fill="#111">+LV-IRS-1</text>
<text transform="translate(565.8,393.6) rotate(-45)" font-size="6.2" text-anchor="middle" font-weight="bold" fill="#111">mimic-337</text>
<text transform="translate(571.81,399.61) rotate(-45)" font-size="6.2" text-anchor="middle" font-weight="bold" fill="#111">+LV-IRS-1</text>
<rect x="207.6" y="658" width="81" height="13.6" fill="#f5f5f5" stroke="#e2e2e2" stroke-width="0.8" />
<text x="167.73" y="666.91" font-size="8.4" font-weight="bold" textLength="29.47" lengthAdjust="spacingAndGlyphs" fill="#111">P-mTOR</text>
<line x1="293.4" y1="664.5" x2="300.2" y2="664.5" stroke="#111" stroke-width="1.3"/>
<text x="302.6" y="667.11" font-size="7.3" font-weight="bold" textLength="25.57" lengthAdjust="spacingAndGlyphs" fill="#111">300kDa</text>
<rect x="231.35" y="664.85" width="13.3" height="4.3" rx="1.29" fill="#000" opacity="0.3" filter="url(#bl12)"/>
<rect x="251.85" y="665.35" width="13.3" height="4.3" rx="1.29" fill="#000" opacity="0.35" filter="url(#bl12)"/>
<rect x="272.85" y="665.35" width="12.8" height="4.3" rx="1.29" fill="#000" opacity="0.3" filter="url(#bl12)"/>
<rect x="212.05" y="661.84" width="11" height="1.92" rx="0.58" fill="#000" opacity="1" filter="url(#bl8)"/>
<rect x="231.75" y="662.85" width="12.4" height="4.3" rx="1.29" fill="#000" opacity="1" filter="url(#bl8)"/>
<rect x="252.15" y="663.5" width="12.5" height="4.8" rx="1.44" fill="#000" opacity="1" filter="url(#bl8)"/>
<rect x="273.35" y="663.85" width="11.7" height="4.3" rx="1.29" fill="#000" opacity="1" filter="url(#bl8)"/>
<rect x="207.6" y="676.3" width="81" height="13.4" fill="#f3f3f3" stroke="#e2e2e2" stroke-width="0.8" />
<text x="175.13" y="685.01" font-size="8.4" font-weight="bold" textLength="22.07" lengthAdjust="spacingAndGlyphs" fill="#111">mTOR</text>
<line x1="293.4" y1="682.7" x2="300.2" y2="682.7" stroke="#111" stroke-width="1.3"/>
<text x="302.6" y="685.31" font-size="7.3" font-weight="bold" textLength="25.57" lengthAdjust="spacingAndGlyphs" fill="#111">300kDa</text>
<rect x="210.85" y="678.85" width="13.3" height="7.3" rx="2.19" fill="#000" opacity="0.18" filter="url(#bl15)"/>
<rect x="231.35" y="678.85" width="13.3" height="7.3" rx="2.19" fill="#000" opacity="0.18" filter="url(#bl15)"/>
<rect x="251.35" y="677.85" width="14.3" height="9.3" rx="2.79" fill="#000" opacity="0.28" filter="url(#bl15)"/>
<rect x="272.35" y="678.85" width="13.8" height="7.3" rx="2.19" fill="#000" opacity="0.18" filter="url(#bl15)"/>
<rect x="211.75" y="680.7" width="11.3" height="2.8" rx="0.84" fill="#000" opacity="0.95" filter="url(#bl8)"/>
<rect x="232.15" y="680.7" width="11.3" height="2.8" rx="0.84" fill="#000" opacity="0.95" filter="url(#bl8)"/>
<rect x="252.15" y="679.35" width="12.5" height="4.3" rx="1.29" fill="#000" opacity="1" filter="url(#bl8)"/>
<rect x="273.35" y="680.7" width="11.7" height="2.8" rx="0.84" fill="#000" opacity="0.95" filter="url(#bl8)"/>
<rect x="207.6" y="693.5" width="81" height="13.4" fill="#f9f9f9" stroke="#e2e2e2" stroke-width="0.8" />
<text x="178.28" y="702.61" font-size="8.4" font-weight="bold" textLength="18.92" lengthAdjust="spacingAndGlyphs" fill="#111">IRS-1</text>
<line x1="293.4" y1="699.9" x2="300.2" y2="699.9" stroke="#111" stroke-width="1.3"/>
<text x="302.6" y="702.51" font-size="7.3" font-weight="bold" textLength="25.57" lengthAdjust="spacingAndGlyphs" fill="#111">180kDa</text>
<rect x="212.05" y="696.74" width="10.2" height="1.92" rx="0.58" fill="#000" opacity="1" filter="url(#bl8)"/>
<rect x="231.35" y="697.7" width="12.8" height="5.6" rx="1.68" fill="#000" opacity="1" filter="url(#bl8)"/>
<rect x="252.15" y="699.25" width="12.5" height="4.1" rx="1.23" fill="#000" opacity="1" filter="url(#bl8)"/>
<rect x="272.65" y="696.7" width="12.8" height="7.2" rx="2.16" fill="#000" opacity="1" filter="url(#bl8)"/>
<rect x="207.6" y="709.9" width="81" height="13.1" fill="#fbfbfb" stroke="#e2e2e2" stroke-width="0.8" />
<text x="177.88" y="719.61" font-size="8.4" font-weight="bold" textLength="19.32" lengthAdjust="spacingAndGlyphs" fill="#111">P-Akt</text>
<line x1="293.4" y1="716.15" x2="300.2" y2="716.15" stroke="#111" stroke-width="1.3"/>
<text x="302.6" y="718.76" font-size="7.3" font-weight="bold" textLength="21.51" lengthAdjust="spacingAndGlyphs" fill="#111">60kDa</text>
<rect x="213.45" y="715.2" width="9.6" height="1.6" rx="0.48" fill="#000" opacity="0.5" filter="url(#bl8)"/>
<rect x="231.75" y="714.55" width="12.4" height="3.7" rx="1.11" fill="#000" opacity="1" filter="url(#bl8)"/>
<rect x="250.75" y="714.55" width="13.9" height="3.7" rx="1.11" fill="#000" opacity="1" filter="url(#bl8)"/>
<rect x="270.15" y="713.85" width="13.4" height="3.7" rx="1.11" fill="#000" opacity="1" filter="url(#bl8)"/>
<rect x="207.6" y="726.6" width="81" height="13.9" fill="#f9f9f9" stroke="#e2e2e2" stroke-width="0.8" />
<text x="185.28" y="736.91" font-size="8.4" font-weight="bold" textLength="11.92" lengthAdjust="spacingAndGlyphs" fill="#111">Akt</text>
<line x1="293.4" y1="733.25" x2="300.2" y2="733.25" stroke="#111" stroke-width="1.3"/>
<text x="302.6" y="735.86" font-size="7.3" font-weight="bold" textLength="21.51" lengthAdjust="spacingAndGlyphs" fill="#111">60kDa</text>
<rect x="212.05" y="731.55" width="13.9" height="3.3" rx="0.99" fill="#000" opacity="1" filter="url(#bl8)"/>
<rect x="231.75" y="731.55" width="12.4" height="3.3" rx="0.99" fill="#000" opacity="1" filter="url(#bl8)"/>
<rect x="250.75" y="730.85" width="12.8" height="3.3" rx="0.99" fill="#000" opacity="1" filter="url(#bl8)"/>
<rect x="270.45" y="731.55" width="12.4" height="3.3" rx="0.99" fill="#000" opacity="1" filter="url(#bl8)"/>
<rect x="207.6" y="743.4" width="81" height="13.9" fill="#f9f9f9" stroke="#e2e2e2" stroke-width="0.8" />
<text x="170.48" y="754.01" font-size="8.4" font-weight="bold" textLength="26.72" lengthAdjust="spacingAndGlyphs" fill="#111">GAPDH</text>
<line x1="293.4" y1="750.05" x2="300.2" y2="750.05" stroke="#111" stroke-width="1.3"/>
<text x="302.6" y="752.66" font-size="7.3" font-weight="bold" textLength="21.51" lengthAdjust="spacingAndGlyphs" fill="#111">36kDa</text>
<rect x="211.35" y="748.65" width="14.9" height="3.5" rx="1.05" fill="#000" opacity="1" filter="url(#bl8)"/>
<rect x="231.35" y="748.65" width="14.7" height="3.5" rx="1.05" fill="#000" opacity="1" filter="url(#bl8)"/>
<rect x="251.45" y="748.65" width="13.2" height="3.5" rx="1.05" fill="#000" opacity="1" filter="url(#bl8)"/>
<rect x="271.15" y="748.65" width="14.3" height="3.5" rx="1.05" fill="#000" opacity="1" filter="url(#bl8)"/>
<text x="228.6" y="651" font-size="9" text-anchor="middle" font-weight="bold" fill="#111" >SST</text>
<text x="266.6" y="651" font-size="9" text-anchor="middle" font-weight="bold" fill="#111" >FBS</text>
<line x1="209" y1="655.1" x2="247" y2="655.1" stroke="#6a6a6a" stroke-width="1.4"/>
<line x1="250.4" y1="655.1" x2="288.3" y2="655.1" stroke="#6a6a6a" stroke-width="1.4"/>
<text transform="translate(211.4,776.4) rotate(-45)" font-size="4.9" text-anchor="middle" font-weight="bold" fill="#111">inhibitor-nc</text>
<text transform="translate(234.2,775.2) rotate(-45)" font-size="4.9" text-anchor="middle" font-weight="bold" fill="#111">inhibitor-337</text>
<text transform="translate(253.7,777.4) rotate(-45)" font-size="4.9" text-anchor="middle" font-weight="bold" fill="#111">inhibitor-nc</text>
<text transform="translate(278.7,774.2) rotate(-45)" font-size="4.9" text-anchor="middle" font-weight="bold" fill="#111">inhibitor-337</text>
<rect x="564" y="658" width="80.6" height="13.9" fill="#f7f7f7" stroke="#e2e2e2" stroke-width="0.8" />
<text x="522.53" y="667.11" font-size="8.4" font-weight="bold" textLength="29.47" lengthAdjust="spacingAndGlyphs" fill="#111">P-mTOR</text>
<line x1="649.4" y1="664.65" x2="656" y2="664.65" stroke="#111" stroke-width="1.3"/>
<text x="658.2" y="667.26" font-size="7.3" font-weight="bold" textLength="25.57" lengthAdjust="spacingAndGlyphs" fill="#111">300kDa</text>
<rect x="568.05" y="662.05" width="12.4" height="2.9" rx="0.87" fill="#000" opacity="1" filter="url(#bl8)"/>
<rect x="588.45" y="660.85" width="11.7" height="4.1" rx="1.23" fill="#000" opacity="1" filter="url(#bl8)"/>
<rect x="608.15" y="661.35" width="13.2" height="7.3" rx="2.19" fill="#000" opacity="1" filter="url(#bl8)"/>
<rect x="630.05" y="660.72" width="11" height="2.56" rx="0.77" fill="#000" opacity="1" filter="url(#bl8)"/>
<rect x="608.35" y="665.85" width="12.8" height="3.3" rx="0.99" fill="#000" opacity="0.5" filter="url(#bl12)"/>
<rect x="564" y="675.1" width="80.6" height="14.3" fill="#ededed" stroke="#e2e2e2" stroke-width="0.8" />
<text x="529.93" y="684.91" font-size="8.4" font-weight="bold" textLength="22.07" lengthAdjust="spacingAndGlyphs" fill="#111">mTOR</text>
<line x1="649.4" y1="681.95" x2="656" y2="681.95" stroke="#111" stroke-width="1.3"/>
<text x="658.2" y="684.56" font-size="7.3" font-weight="bold" textLength="25.57" lengthAdjust="spacingAndGlyphs" fill="#111">300kDa</text>
<rect x="565.35" y="676.95" width="14.8" height="9.3" rx="2.79" fill="#000" opacity="0.22" filter="url(#bl15)"/>
<rect x="586.35" y="676.45" width="14.8" height="10.3" rx="3.09" fill="#000" opacity="0.3" filter="url(#bl15)"/>
<rect x="606.35" y="676.95" width="15.3" height="9.3" rx="2.79" fill="#000" opacity="0.25" filter="url(#bl15)"/>
<rect x="627.85" y="677.45" width="13.8" height="8.3" rx="2.49" fill="#000" opacity="0.2" filter="url(#bl15)"/>
<rect x="566.55" y="679.75" width="12.5" height="3.3" rx="0.99" fill="#000" opacity="1" filter="url(#bl8)"/>
<rect x="587.05" y="678.75" width="13.1" height="5.3" rx="1.59" fill="#000" opacity="1" filter="url(#bl8)"/>
<rect x="607.45" y="679" width="13.2" height="4.8" rx="1.44" fill="#000" opacity="1" filter="url(#bl8)"/>
<rect x="628.65" y="679.5" width="12.4" height="3.8" rx="1.14" fill="#000" opacity="1" filter="url(#bl8)"/>
<rect x="564" y="693.1" width="80.6" height="14.1" fill="#fbfbfb" stroke="#e2e2e2" stroke-width="0.8" />
<text x="533.08" y="702.41" font-size="8.4" font-weight="bold" textLength="18.92" lengthAdjust="spacingAndGlyphs" fill="#111">IRS-1</text>
<line x1="649.4" y1="699.85" x2="656" y2="699.85" stroke="#111" stroke-width="1.3"/>
<text x="658.2" y="702.46" font-size="7.3" font-weight="bold" textLength="25.57" lengthAdjust="spacingAndGlyphs" fill="#111">180kDa</text>
<rect x="566.55" y="698.65" width="11.7" height="3.5" rx="1.05" fill="#000" opacity="1" filter="url(#bl8)"/>
<rect x="587.05" y="699.22" width="12.1" height="2.56" rx="0.77" fill="#000" opacity="0.85" filter="url(#bl8)"/>
<rect x="607.15" y="697.4" width="12.7" height="7" rx="2.1" fill="#000" opacity="1" filter="url(#bl8)"/>
<rect x="631.85" y="697.3" width="8.5" height="2.4" rx="0.72" fill="#000" opacity="1" filter="url(#bl8)"/>
<rect x="564" y="709.6" width="80.6" height="13.4" fill="#fbfbfb" stroke="#e2e2e2" stroke-width="0.8" />
<text x="532.68" y="719.51" font-size="8.4" font-weight="bold" textLength="19.32" lengthAdjust="spacingAndGlyphs" fill="#111">P-Akt</text>
<line x1="649.4" y1="716" x2="656" y2="716" stroke="#111" stroke-width="1.3"/>
<text x="658.2" y="718.61" font-size="7.3" font-weight="bold" textLength="21.51" lengthAdjust="spacingAndGlyphs" fill="#111">60kDa</text>
<rect x="568.05" y="713.6" width="12.7" height="2.8" rx="0.84" fill="#000" opacity="1" filter="url(#bl8)"/>
<rect x="588.15" y="713.45" width="12" height="3.7" rx="1.11" fill="#000" opacity="1" filter="url(#bl8)"/>
<rect x="607.75" y="713.8" width="13.6" height="5.6" rx="1.68" fill="#000" opacity="1" filter="url(#bl8)"/>
<rect x="630.85" y="713.5" width="10.2" height="2.4" rx="0.72" fill="#000" opacity="0.9" filter="url(#bl8)"/>
<rect x="564" y="726.2" width="80.6" height="14.3" fill="#f9f9f9" stroke="#e2e2e2" stroke-width="0.8" />
<text x="540.08" y="736.91" font-size="8.4" font-weight="bold" textLength="11.92" lengthAdjust="spacingAndGlyphs" fill="#111">Akt</text>
<line x1="649.4" y1="733.05" x2="656" y2="733.05" stroke="#111" stroke-width="1.3"/>
<text x="658.2" y="735.66" font-size="7.3" font-weight="bold" textLength="21.51" lengthAdjust="spacingAndGlyphs" fill="#111">60kDa</text>
<rect x="568.35" y="731.3" width="13.9" height="3.8" rx="1.14" fill="#000" opacity="1" filter="url(#bl8)"/>
<rect x="587.75" y="731.3" width="13.2" height="3.8" rx="1.14" fill="#000" opacity="1" filter="url(#bl8)"/>
<rect x="607.15" y="731.3" width="13" height="3.8" rx="1.14" fill="#000" opacity="1" filter="url(#bl8)"/>
<rect x="626.35" y="731.3" width="13.7" height="3.8" rx="1.14" fill="#000" opacity="1" filter="url(#bl8)"/>
<rect x="564" y="743.4" width="80.6" height="13.9" fill="#f9f9f9" stroke="#e2e2e2" stroke-width="0.8" />
<text x="525.28" y="753.91" font-size="8.4" font-weight="bold" textLength="26.72" lengthAdjust="spacingAndGlyphs" fill="#111">GAPDH</text>
<line x1="649.4" y1="750.05" x2="656" y2="750.05" stroke="#111" stroke-width="1.3"/>
<text x="658.2" y="752.66" font-size="7.3" font-weight="bold" textLength="21.51" lengthAdjust="spacingAndGlyphs" fill="#111">36kDa</text>
<rect x="568.05" y="748.75" width="14.6" height="3.3" rx="0.99" fill="#000" opacity="1" filter="url(#bl8)"/>
<rect x="587.75" y="748.75" width="14.3" height="3.3" rx="0.99" fill="#000" opacity="1" filter="url(#bl8)"/>
<rect x="607.15" y="748.75" width="13.5" height="3.3" rx="0.99" fill="#000" opacity="1" filter="url(#bl8)"/>
<rect x="626.35" y="748.75" width="14" height="3.3" rx="0.99" fill="#000" opacity="1" filter="url(#bl8)"/>
<text x="584.5" y="651" font-size="9" text-anchor="middle" font-weight="bold" fill="#111" >SST</text>
<text x="622.4" y="651" font-size="9" text-anchor="middle" font-weight="bold" fill="#111" >FBS</text>
<line x1="565" y1="655.1" x2="603" y2="655.1" stroke="#6a6a6a" stroke-width="1.4"/>
<line x1="606.4" y1="655.1" x2="644.3" y2="655.1" stroke="#6a6a6a" stroke-width="1.4"/>
<text transform="translate(567.5,776) rotate(-45)" font-size="4.8" text-anchor="middle" font-weight="bold" fill="#111">mimic-nc</text>
<text transform="translate(591.1,775) rotate(-45)" font-size="4.8" text-anchor="middle" font-weight="bold" fill="#111">mimic-337</text>
<text transform="translate(611.9,775.1) rotate(-45)" font-size="4.8" text-anchor="middle" font-weight="bold" fill="#111">mimic-nc</text>
<text transform="translate(635.5,773.9) rotate(-45)" font-size="4.8" text-anchor="middle" font-weight="bold" fill="#111">mimic-337</text>
<text x="0.6" y="13" font-size="17" text-anchor="start" font-weight="bold" fill="#140c0c" >a</text>
<text x="295.9" y="12.9" font-size="17" text-anchor="start" font-weight="bold" fill="#140c0c" >b</text>
<text x="0.2" y="219.7" font-size="17" text-anchor="start" font-weight="bold" fill="#140c0c" >c</text>
<text x="295.9" y="219.5" font-size="17" text-anchor="start" font-weight="bold" fill="#140c0c" >d</text>
<text x="0" y="435.3" font-size="17" text-anchor="start" font-weight="bold" fill="#140c0c" >e</text>
<text x="248.9" y="435.2" font-size="17" text-anchor="start" font-weight="bold" fill="#140c0c" >f</text>
<text x="496.5" y="435" font-size="17" text-anchor="start" font-weight="bold" fill="#140c0c" >g</text>
<text x="0" y="634" font-size="17" text-anchor="start" font-weight="bold" fill="#140c0c" >h</text>
<text x="161.4" y="634" font-size="17" text-anchor="start" font-weight="bold" fill="#140c0c" >i</text>
<text x="341.6" y="634.2" font-size="17" text-anchor="start" font-weight="bold" fill="#140c0c" >j</text>
<text x="495.9" y="634.4" font-size="17" text-anchor="start" font-weight="bold" fill="#140c0c" >k</text>
</svg></body></html>
